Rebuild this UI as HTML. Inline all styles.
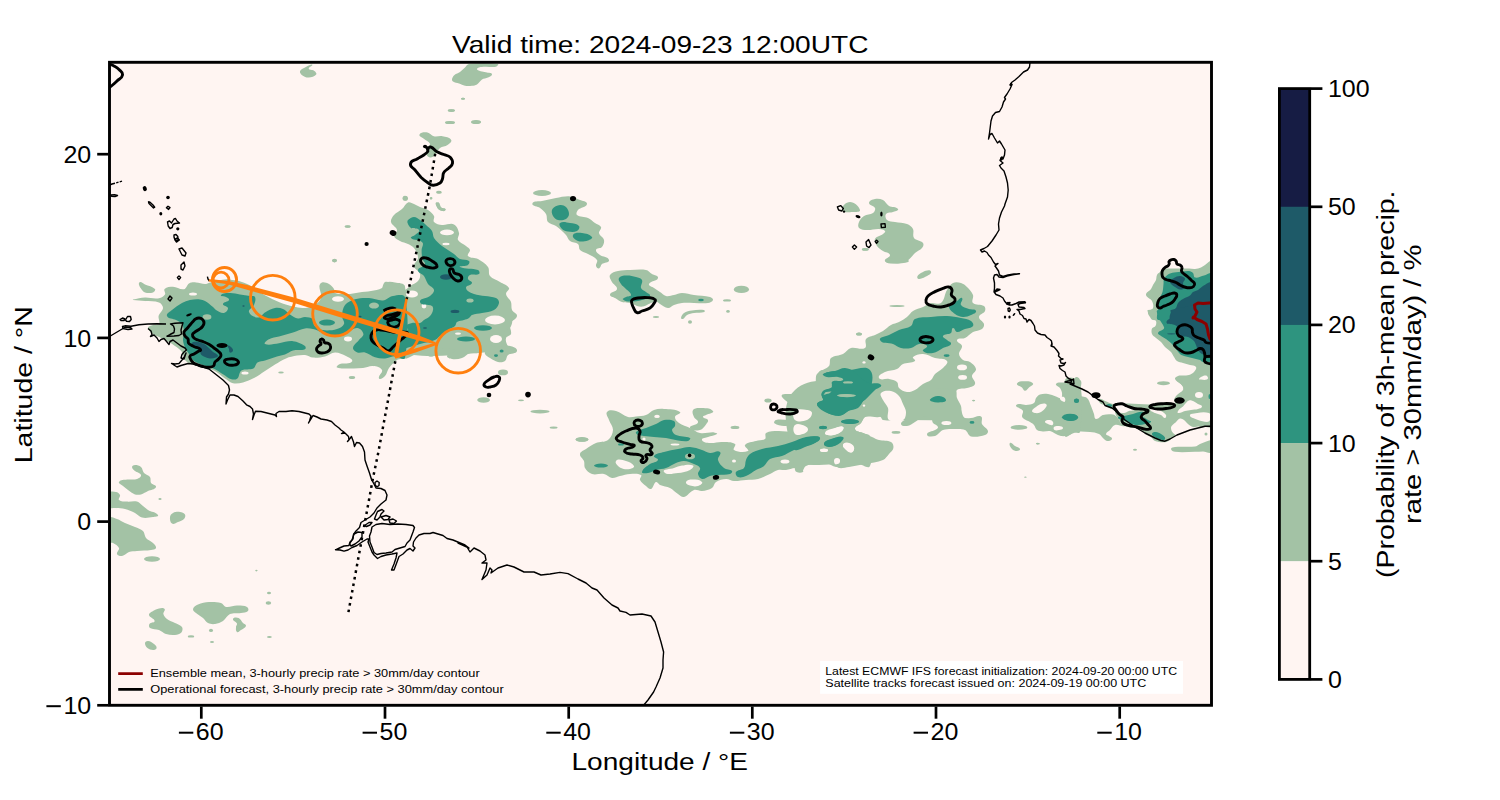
<!DOCTYPE html>
<html><head><meta charset="utf-8"><title>Precip probability map</title>
<style>html,body{margin:0;padding:0;background:#fff;}body{width:1500px;height:800px;overflow:hidden;font-family:"Liberation Sans",sans-serif;}svg{display:block;}text{font-family:"Liberation Sans",sans-serif;fill:#000;}</style></head><body>
<svg width="1500" height="800" viewBox="0 0 1500 800">
<rect x="0" y="0" width="1500" height="800" fill="#fff"/>
<defs><clipPath id="cp"><rect x="109.5" y="62.3" width="1102.0" height="643.0"/></clipPath></defs>
<rect x="109.5" y="62.3" width="1102.0" height="643.0" fill="#fff5f2"/>
<g clip-path="url(#cp)">
<g fill="#a3c2a5" stroke="none"><path d="M133.0 299.6 C137.0 298.8 140.9 297.8 145.0 297.6 C149.3 297.4 153.7 299.1 158.0 298.4 C160.7 298.0 163.5 296.6 165.0 294.4 C166.0 292.9 163.3 290.2 164.6 289.0 C166.7 287.0 170.1 286.8 173.0 286.8 C176.8 286.8 180.3 290.0 184.0 289.2 C186.5 288.7 186.8 284.7 189.0 283.4 C191.1 282.2 193.6 282.3 196.0 282.4 C199.0 282.5 202.0 284.0 205.0 284.0 C206.7 284.0 208.3 282.8 210.0 282.4 C215.5 281.2 221.0 279.8 226.6 279.2 C228.4 279.0 230.2 279.8 232.0 280.0 C233.8 280.2 235.6 280.2 237.4 280.6 C239.5 281.1 241.4 281.8 243.4 282.6 C246.3 283.8 249.3 284.9 252.0 286.4 C253.3 287.1 254.2 288.5 255.4 289.4 C258.6 291.6 261.9 293.7 265.4 295.6 C270.2 298.2 275.0 300.6 280.0 302.6 C284.3 304.3 288.9 305.5 293.4 306.6 C296.5 307.3 299.8 308.1 303.0 308.0 C306.4 307.9 310.0 307.7 313.0 306.0 C316.3 304.2 319.9 301.6 321.0 298.0 C322.2 294.2 319.1 290.0 319.4 286.0 C319.5 284.5 320.6 282.7 322.0 282.4 C324.3 281.9 326.9 282.8 329.0 284.0 C331.1 285.1 332.7 287.0 334.0 289.0 C334.8 290.1 333.7 292.5 335.0 293.0 C338.7 294.4 343.0 294.1 347.0 294.0 C351.0 293.9 355.0 292.9 359.0 292.4 C363.0 291.9 367.0 291.8 371.0 291.0 C374.7 290.3 378.7 289.9 382.0 288.0 C384.0 286.9 383.9 283.3 386.0 282.4 C388.8 281.2 392.1 281.8 395.0 282.4 C398.5 283.1 404.5 282.8 405.0 286.4 C408.1 309.7 407.5 333.6 405.0 357.0 C404.7 359.8 399.3 358.4 397.0 360.0 C393.9 362.1 391.3 365.0 389.0 368.0 C387.2 370.4 387.1 373.9 385.0 376.0 C383.5 377.6 380.0 380.3 379.0 378.4 C377.7 375.7 383.3 372.7 382.0 370.0 C380.6 367.0 376.3 366.3 373.0 366.0 C369.6 365.6 366.4 367.6 363.0 368.0 C359.0 368.4 355.0 368.5 351.0 368.4 C346.3 368.3 341.3 369.3 337.0 367.6 C335.5 367.0 338.5 364.6 340.0 364.0 C343.8 362.5 349.6 364.9 352.0 361.6 C353.6 359.4 348.4 357.3 346.0 356.0 C342.6 354.2 338.9 352.3 335.0 352.4 C331.4 352.5 328.5 355.6 325.0 356.4 C321.1 357.3 317.0 357.9 313.0 357.6 C310.2 357.4 307.8 355.3 305.0 355.0 C302.3 354.7 299.6 355.1 297.0 355.6 C293.3 356.3 289.5 357.0 286.0 358.4 C282.1 360.0 278.6 362.3 275.0 364.4 C271.6 366.5 268.4 368.8 265.0 371.0 C261.4 373.4 257.9 376.0 254.0 378.0 C250.5 379.8 246.8 381.5 243.0 382.4 C239.8 383.2 236.3 383.9 233.0 383.2 C230.0 382.5 227.6 380.1 225.0 378.4 C221.2 375.9 218.1 372.4 214.0 370.4 C209.9 368.4 205.4 367.6 201.0 366.4 C198.0 365.6 194.9 365.5 192.0 364.4 C189.4 363.4 186.7 362.1 185.0 360.0 C183.2 357.8 183.7 354.3 182.0 352.0 C180.2 349.5 177.5 347.8 175.0 346.0 C172.5 344.1 169.7 342.5 167.0 341.0 C164.4 339.5 161.7 338.3 159.0 337.0 C157.0 336.0 154.7 335.4 153.0 334.0 C151.0 332.4 148.0 330.6 148.0 328.0 C148.0 326.1 151.2 325.7 153.0 325.0 C154.9 324.3 157.9 325.7 159.0 324.0 C160.4 321.7 158.0 318.6 158.6 316.0 C159.3 313.0 162.9 311.0 163.0 308.0 C163.1 305.7 161.1 303.2 159.0 302.4 C154.6 300.7 149.7 301.4 145.0 301.0 C141.0 300.6 137.0 300.5 133.0 300.0 C132.9 300.0 132.9 299.6 133.0 299.6Z"/><path d="M139.4 282.4 C140.9 281.1 143.2 283.6 145.0 284.4 C148.4 285.8 152.4 286.4 155.0 289.0 C155.9 289.9 154.2 292.0 153.0 292.4 C150.5 293.3 147.5 293.3 145.0 292.4 C143.0 291.7 141.6 289.8 140.6 288.0 C139.7 286.3 137.9 283.6 139.4 282.4Z"/><path d="M384.0 283.0 C385.6 280.1 390.8 282.9 394.0 284.0 C397.7 285.3 400.1 289.5 404.0 290.0 C406.4 290.3 408.0 287.3 410.0 286.0 C412.6 284.3 416.0 283.4 418.0 281.0 C419.6 279.1 420.6 276.3 420.0 274.0 C419.1 270.8 414.4 269.3 414.0 266.0 C413.6 263.0 418.0 261.0 418.0 258.0 C418.0 254.4 416.1 250.9 414.0 248.0 C412.6 246.0 410.1 245.1 408.0 244.0 C405.5 242.7 402.5 242.4 400.0 241.0 C397.7 239.7 394.7 238.5 394.0 236.0 C393.4 233.8 397.5 232.2 397.0 230.0 C396.3 226.7 391.7 225.3 391.0 222.0 C390.5 219.5 392.4 216.9 394.0 215.0 C396.2 212.5 399.5 211.2 402.0 209.0 C404.2 207.0 405.3 203.5 408.0 202.4 C409.9 201.6 412.1 203.3 414.0 204.0 C416.1 204.8 417.9 206.1 420.0 207.0 C422.6 208.1 425.6 208.5 428.0 210.0 C430.4 211.5 432.7 213.5 434.0 216.0 C434.9 217.8 432.7 220.5 434.0 222.0 C435.9 224.1 439.2 224.7 442.0 225.0 C446.0 225.5 450.4 222.7 454.0 224.4 C457.0 225.8 458.2 229.8 459.0 233.0 C459.6 235.3 456.9 237.9 458.0 240.0 C459.6 242.9 463.4 243.9 466.0 246.0 C467.4 247.2 469.6 248.2 470.0 250.0 C470.4 252.1 466.6 254.4 468.0 256.0 C470.3 258.6 475.0 257.3 478.0 259.0 C481.7 261.1 485.5 263.5 488.0 267.0 C489.8 269.5 488.1 273.6 490.0 276.0 C492.4 279.0 496.7 279.9 500.0 282.0 C503.0 283.9 507.4 284.8 509.0 288.0 C510.0 290.0 505.7 291.8 506.0 294.0 C506.4 297.1 509.9 299.1 511.0 302.0 C511.9 304.5 510.9 307.5 512.0 310.0 C513.0 312.4 517.4 313.4 517.0 316.0 C516.5 319.5 511.1 320.6 510.0 324.0 C508.9 327.2 511.9 330.8 511.0 334.0 C510.4 336.1 506.5 335.9 506.0 338.0 C505.3 340.7 506.5 343.7 508.0 346.0 C509.3 348.0 516.4 349.9 514.0 350.0 C472.7 351.4 429.3 362.7 390.0 350.0 C377.3 345.9 391.7 323.2 390.0 310.0 C389.6 306.7 384.7 305.3 384.0 302.0 C382.6 295.8 380.9 288.5 384.0 283.0Z"/><path d="M436.0 202.4 C437.0 201.8 438.2 203.5 439.0 204.4 C439.9 205.3 440.0 206.9 441.0 207.6 C442.3 208.5 444.4 207.9 445.6 209.0 C446.1 209.5 445.1 210.7 444.4 210.8 C442.6 211.0 440.6 210.5 439.0 209.6 C437.7 208.8 437.0 207.4 436.4 206.0 C435.9 204.9 435.0 203.0 436.0 202.4Z"/><path d="M532.4 203.6 C533.3 200.4 538.8 201.8 542.0 201.0 C546.6 199.9 551.3 198.8 556.0 198.0 C560.6 197.2 565.3 196.0 570.0 196.4 C573.5 196.7 576.8 198.6 580.0 200.0 C582.5 201.1 587.5 201.4 587.0 204.0 C586.3 207.5 580.4 207.3 578.0 210.0 C576.9 211.3 575.7 213.9 577.0 215.0 C580.0 217.4 584.5 216.5 588.0 218.0 C590.6 219.2 592.6 221.4 595.0 223.0 C597.0 224.4 600.1 224.8 601.0 227.0 C601.8 229.0 598.5 230.9 599.0 233.0 C599.6 235.8 603.4 237.2 604.0 240.0 C604.5 242.4 603.5 245.1 602.0 247.0 C600.6 248.7 596.5 247.8 596.0 250.0 C595.5 252.1 598.3 253.7 600.0 255.0 C602.7 257.1 608.3 256.6 609.0 260.0 C609.6 262.6 604.1 262.3 602.0 264.0 C600.6 265.1 600.7 267.8 599.0 268.4 C597.8 268.8 596.3 267.2 596.0 266.0 C595.5 264.0 598.1 261.7 597.0 260.0 C595.0 257.0 591.1 255.8 588.0 254.0 C585.4 252.5 582.1 252.1 580.0 250.0 C578.5 248.5 579.6 245.4 578.0 244.0 C575.9 242.1 572.3 242.7 570.0 241.0 C568.1 239.6 567.6 236.8 566.0 235.0 C562.9 231.7 559.6 228.6 556.0 226.0 C553.6 224.3 549.9 224.3 548.0 222.0 C546.2 219.9 547.4 216.4 546.0 214.0 C544.6 211.5 542.2 209.7 540.0 208.0 C537.7 206.2 531.6 206.4 532.4 203.6Z"/><path d="M405.0 320.0 C438.3 308.1 475.8 317.3 511.0 320.0 C513.7 320.2 511.4 325.7 510.0 328.0 C508.8 330.1 504.9 329.8 504.0 332.0 C503.2 334.0 506.9 336.1 506.0 338.0 C505.1 340.0 502.2 340.7 500.0 341.0 C496.7 341.4 493.2 338.9 490.0 340.0 C488.3 340.6 489.3 343.7 488.0 345.0 C486.4 346.6 483.7 346.6 482.0 348.0 C480.3 349.3 480.0 352.2 478.0 353.0 C475.5 354.0 472.5 352.2 470.0 353.0 C467.0 353.9 465.0 357.0 462.0 358.0 C458.8 359.1 455.3 359.4 452.0 359.0 C450.1 358.7 446.5 357.9 447.0 356.0 C447.7 353.4 451.8 353.5 454.0 352.0 C454.8 351.5 456.9 350.3 456.0 350.0 C451.5 348.5 446.7 348.8 442.0 348.0 C439.3 347.6 436.7 346.0 434.0 346.4 C431.7 346.7 430.2 349.1 428.0 350.0 C424.8 351.3 421.2 351.7 418.0 353.0 C415.2 354.1 412.8 355.9 410.0 357.0 C408.4 357.6 405.2 359.7 405.0 358.0 C403.3 345.4 393.1 324.3 405.0 320.0Z"/><path d="M488.0 345.0 C490.7 344.5 493.3 346.9 496.0 347.0 C500.7 347.2 505.4 345.1 510.0 346.0 C512.8 346.5 517.6 348.2 517.0 351.0 C516.3 354.2 510.5 352.9 508.0 355.0 C506.3 356.4 506.8 359.7 505.0 361.0 C503.1 362.4 500.3 362.5 498.0 362.0 C495.1 361.4 492.5 359.6 490.0 358.0 C488.2 356.9 485.9 356.0 485.0 354.0 C484.3 352.4 485.5 350.6 486.0 349.0 C486.5 347.6 486.5 345.3 488.0 345.0Z"/><path d="M580.0 454.0 C580.4 451.4 583.9 450.5 586.0 449.0 C589.2 446.8 592.4 444.5 596.0 443.0 C599.8 441.4 604.7 442.5 608.0 440.0 C611.0 437.7 612.8 433.7 613.0 430.0 C613.2 426.4 610.1 423.4 609.0 420.0 C608.1 417.4 605.3 414.2 607.0 412.0 C608.9 409.6 613.1 410.3 616.0 411.0 C620.4 412.0 623.7 415.8 628.0 417.0 C630.6 417.7 633.3 416.7 636.0 416.4 C639.3 416.0 642.8 416.1 646.0 415.0 C649.0 413.9 651.0 411.0 654.0 410.0 C657.2 408.9 660.7 408.7 664.0 409.0 C669.4 409.4 675.6 408.8 680.0 412.0 C681.9 413.4 675.2 414.7 675.0 417.0 C674.8 419.4 677.1 421.6 679.0 423.0 C682.2 425.4 686.4 426.3 690.0 428.0 C693.4 429.6 696.3 432.3 700.0 433.0 C704.6 433.8 709.3 432.1 714.0 432.4 C715.1 432.5 717.9 433.3 717.0 434.0 C714.5 435.9 710.9 435.8 708.0 437.0 C705.9 437.8 701.3 437.9 702.0 440.0 C702.9 442.7 707.2 442.7 710.0 443.0 C714.0 443.4 718.0 441.8 722.0 442.0 C726.4 442.2 731.4 441.6 735.0 444.0 C736.7 445.1 732.2 449.0 734.0 450.0 C738.1 452.2 743.7 452.9 748.0 451.0 C750.0 450.1 743.6 446.7 745.0 445.0 C747.4 442.0 752.3 442.1 756.0 441.0 C758.9 440.1 762.6 440.9 765.0 439.0 C766.6 437.7 764.3 434.1 766.0 433.0 C769.5 430.9 773.9 431.1 778.0 431.0 C783.4 430.9 788.7 431.9 794.0 432.4 C798.3 432.8 802.8 434.8 807.0 433.6 C808.7 433.1 809.3 429.6 808.0 428.4 C805.4 426.0 801.5 425.5 798.0 425.2 C793.3 424.7 788.7 426.4 784.0 426.0 C780.7 425.7 777.1 425.2 774.4 423.2 C773.4 422.5 774.8 420.2 776.0 420.0 C780.6 419.1 785.3 420.1 790.0 420.0 C795.3 419.9 800.8 420.6 806.0 419.2 C808.2 418.6 811.0 416.7 811.0 414.4 C811.0 412.2 808.1 410.7 806.0 410.0 C802.8 408.9 799.1 410.4 796.0 409.2 C793.5 408.3 792.0 405.7 790.0 404.0 C787.3 401.7 784.2 399.8 782.0 397.0 C781.5 396.3 781.5 394.6 782.4 394.4 C786.8 393.4 791.5 394.2 796.0 394.0 C799.3 393.9 802.7 393.3 806.0 393.6 C808.9 393.8 811.8 396.8 814.4 395.6 C816.1 394.8 813.4 391.8 814.0 390.0 C815.0 387.0 818.2 385.1 819.0 382.0 C819.7 379.4 817.3 376.6 818.0 374.0 C818.5 372.2 820.1 370.1 822.0 370.0 C838.0 368.8 858.3 359.1 870.0 370.0 C880.9 380.3 871.6 400.1 870.0 415.0 C869.8 416.8 866.3 415.8 865.0 417.0 C863.2 418.6 862.5 421.2 861.0 423.0 C859.2 425.2 854.4 426.2 855.0 429.0 C855.6 431.9 860.3 431.7 863.0 433.0 C865.3 434.1 869.5 433.9 870.0 436.4 C872.0 446.1 873.9 457.0 870.0 466.0 C868.4 469.7 862.1 464.0 858.0 464.0 C853.9 464.0 850.0 465.5 846.0 466.0 C842.7 466.5 839.3 467.5 836.0 467.0 C832.4 466.5 829.6 463.5 826.0 463.0 C822.7 462.5 819.3 463.5 816.0 464.0 C812.6 464.5 809.0 464.4 806.0 466.0 C803.7 467.2 803.6 471.5 801.0 472.0 C798.9 472.4 798.1 468.3 796.0 468.0 C792.6 467.6 789.4 469.6 786.0 470.0 C783.3 470.3 780.6 469.4 778.0 470.0 C775.1 470.7 772.7 472.8 770.0 474.0 C766.0 475.8 762.2 477.9 758.0 479.0 C754.1 480.0 750.0 479.7 746.0 480.0 C742.0 480.3 738.0 481.2 734.0 481.0 C731.3 480.9 728.7 478.8 726.0 479.0 C722.5 479.2 718.9 480.1 716.0 482.0 C714.0 483.3 714.0 486.7 712.0 488.0 C709.1 489.9 705.5 490.6 702.0 491.0 C699.3 491.3 696.5 489.2 694.0 490.0 C690.1 491.3 687.9 496.0 684.0 497.0 C681.8 497.5 679.9 495.2 678.0 494.0 C675.2 492.2 673.0 489.5 670.0 488.0 C666.9 486.4 663.2 486.4 660.0 485.0 C658.5 484.3 657.5 481.3 656.0 482.0 C653.4 483.2 653.7 487.9 651.0 489.0 C649.2 489.7 647.5 487.2 646.0 486.0 C643.8 484.2 641.2 482.6 640.0 480.0 C639.3 478.5 642.5 475.9 641.0 475.0 C637.8 473.1 633.7 473.8 630.0 474.0 C626.6 474.2 623.3 475.3 620.0 476.0 C617.3 476.6 614.7 478.3 612.0 478.0 C609.0 477.6 606.9 474.6 604.0 474.0 C600.1 473.2 595.8 475.2 592.0 474.0 C589.1 473.1 586.6 470.6 585.0 468.0 C583.8 466.0 584.8 463.2 584.0 461.0 C583.1 458.5 579.6 456.7 580.0 454.0Z"/><path d="M693.0 410.0 C694.3 408.0 697.6 407.9 700.0 408.0 C704.4 408.2 710.1 407.6 713.0 411.0 C714.7 413.0 708.3 413.6 706.0 415.0 C705.0 415.6 702.6 415.9 703.0 417.0 C703.7 418.8 707.3 418.2 708.0 420.0 C708.6 421.5 707.0 423.1 706.0 424.4 C704.3 426.5 702.7 429.4 700.0 430.0 C696.7 430.7 690.9 431.3 690.0 428.0 C689.2 424.9 696.9 425.5 698.0 422.4 C698.8 420.3 694.8 419.1 694.0 417.0 C693.1 414.8 691.7 412.0 693.0 410.0Z"/><path d="M795.0 394.0 C797.4 390.6 803.3 392.8 807.0 391.0 C810.2 389.4 813.2 387.1 815.0 384.0 C816.7 381.1 814.9 376.7 817.0 374.0 C820.0 370.2 825.8 369.6 829.0 366.0 C830.8 363.9 828.9 359.8 831.0 358.0 C834.2 355.3 839.2 355.9 843.0 354.0 C846.0 352.5 847.8 348.9 851.0 348.0 C855.5 346.8 861.0 350.4 865.0 348.0 C867.6 346.4 864.2 341.4 866.0 339.0 C868.0 336.4 872.0 336.4 875.0 335.0 C877.7 333.7 880.5 332.6 883.0 331.0 C885.8 329.2 888.1 326.6 891.0 325.0 C893.5 323.6 896.5 323.3 899.0 322.0 C901.8 320.6 904.5 318.9 907.0 317.0 C909.2 315.3 910.6 312.5 913.0 311.0 C916.0 309.1 919.7 308.5 923.0 307.0 C925.7 305.8 928.1 303.6 931.0 303.0 C934.3 302.3 938.4 305.1 941.0 303.0 C944.7 300.0 944.5 294.1 947.0 290.0 C948.6 287.4 950.3 284.4 953.0 283.0 C955.4 281.8 958.4 282.3 961.0 283.0 C963.3 283.7 965.3 285.3 967.0 287.0 C969.4 289.4 971.8 291.9 973.0 295.0 C973.9 297.5 971.1 301.1 973.0 303.0 C975.7 305.7 980.8 303.9 984.0 306.0 C985.4 306.9 985.7 309.5 985.0 311.0 C983.8 313.6 979.2 314.2 979.0 317.0 C978.8 319.9 983.3 321.2 984.0 324.0 C984.4 325.7 983.5 327.9 982.0 329.0 C979.4 330.9 975.8 330.5 973.0 332.0 C970.1 333.6 968.0 336.5 965.0 338.0 C962.5 339.2 958.0 337.4 957.0 340.0 C956.1 342.4 961.6 343.4 962.0 346.0 C962.4 348.8 958.8 351.2 959.0 354.0 C959.2 356.4 961.1 358.6 963.0 360.0 C965.0 361.4 968.0 360.6 970.0 362.0 C972.5 363.7 975.6 366.0 976.0 369.0 C976.4 371.7 972.2 373.3 972.0 376.0 C971.8 378.8 976.1 381.4 975.0 384.0 C973.9 386.8 969.8 387.1 967.0 388.0 C963.8 389.1 959.6 387.8 957.0 390.0 C954.9 391.8 954.5 395.3 955.0 398.0 C955.9 402.4 959.0 406.0 961.0 410.0 C962.3 412.7 962.3 416.7 965.0 418.0 C969.8 420.4 986.4 419.8 981.0 420.0 C956.3 420.9 931.7 420.0 907.0 420.0 C899.0 420.0 890.9 421.1 883.0 420.0 C881.5 419.8 881.5 416.8 880.0 416.4 C874.8 415.2 869.2 414.6 864.0 415.6 C862.4 415.9 863.6 419.9 862.0 420.0 C844.4 421.4 826.5 422.1 809.0 420.0 C806.8 419.7 812.8 416.1 812.0 414.0 C811.0 411.3 807.7 410.0 805.0 409.0 C801.8 407.9 796.9 410.8 795.0 408.0 C792.4 404.1 792.3 397.8 795.0 394.0Z"/><path d="M917.4 278.0 C916.4 275.5 920.5 273.2 923.0 272.0 C925.4 270.9 930.0 269.1 931.0 271.6 C932.0 274.1 927.4 275.9 925.0 277.0 C922.7 278.1 918.3 280.4 917.4 278.0Z"/><path d="M795.0 390.0 C816.7 370.3 853.7 388.1 883.0 390.0 C885.8 390.2 887.4 393.6 889.0 396.0 C890.2 397.8 891.3 399.9 891.0 402.0 C890.6 404.4 887.4 405.6 887.0 408.0 C886.7 409.8 890.2 411.7 889.0 413.0 C886.6 415.7 882.5 416.4 879.0 417.0 C874.4 417.8 869.4 415.5 865.0 417.0 C862.7 417.8 862.5 421.2 861.0 423.0 C859.2 425.2 854.4 426.2 855.0 429.0 C855.6 431.9 860.3 431.7 863.0 433.0 C866.0 434.4 869.0 435.7 872.0 437.0 C874.3 438.0 876.5 439.4 879.0 440.0 C882.9 441.0 887.5 440.0 891.0 442.0 C892.9 443.0 893.8 445.9 893.4 448.0 C893.0 450.4 890.6 452.1 889.0 454.0 C887.1 456.1 885.6 458.9 883.0 460.0 C877.3 462.4 871.0 462.8 865.0 464.0 C859.7 465.1 854.4 466.2 849.0 467.0 C845.7 467.5 842.3 468.5 839.0 468.0 C837.4 467.8 836.6 465.2 835.0 465.0 C829.7 464.2 824.3 464.8 819.0 465.0 C813.0 465.2 806.5 463.6 801.0 466.0 C799.1 466.8 804.8 470.8 803.0 472.0 C800.7 473.5 795.3 472.7 795.0 470.0 C792.4 443.5 775.3 407.9 795.0 390.0Z"/><path d="M899.0 390.0 C917.5 387.6 936.5 387.4 955.0 390.0 C957.7 390.4 956.0 395.4 957.0 398.0 C958.0 400.8 960.1 403.2 961.0 406.0 C962.1 409.6 960.6 414.1 963.0 417.0 C964.7 419.1 968.3 418.1 971.0 418.0 C974.4 417.9 978.0 414.8 981.0 416.4 C983.2 417.6 980.9 421.7 982.0 424.0 C983.3 426.8 987.2 428.0 988.0 431.0 C988.4 432.6 986.6 434.5 985.0 435.0 C980.5 436.4 975.5 437.5 971.0 436.4 C968.2 435.7 967.7 431.2 965.0 430.0 C962.0 428.6 958.3 429.0 955.0 429.0 C951.0 429.0 946.8 428.7 943.0 430.0 C939.9 431.1 938.2 435.1 935.0 436.0 C932.4 436.7 927.0 437.1 927.0 434.4 C927.0 431.4 932.5 431.7 935.0 430.0 C936.2 429.2 938.4 428.4 938.0 427.0 C937.4 424.9 934.3 424.7 933.0 423.0 C931.9 421.6 932.5 418.9 931.0 418.0 C928.7 416.6 925.6 416.3 923.0 417.0 C919.9 417.8 917.7 420.5 915.0 422.0 C912.4 423.5 910.0 425.6 907.0 426.0 C904.9 426.3 901.0 426.1 901.0 424.0 C901.0 421.2 905.2 420.2 907.0 418.0 C907.9 416.8 909.5 415.4 909.0 414.0 C908.3 412.0 904.6 412.0 904.0 410.0 C903.4 408.0 906.5 406.1 906.0 404.0 C905.4 401.2 902.3 399.6 901.0 397.0 C899.9 394.8 896.6 390.3 899.0 390.0Z"/><path d="M1010.0 443.0 C1011.4 441.6 1013.3 445.0 1015.0 446.0 C1016.7 447.0 1019.3 447.2 1020.0 449.0 C1020.4 450.1 1018.2 451.0 1017.0 451.0 C1015.2 451.0 1013.2 450.4 1012.0 449.0 C1010.6 447.4 1008.5 444.5 1010.0 443.0Z"/><path d="M610.0 275.0 C611.4 272.4 615.1 271.7 618.0 271.0 C621.9 270.0 626.0 270.1 630.0 270.0 C635.3 269.8 640.8 269.0 646.0 270.0 C648.4 270.4 650.0 272.7 652.0 274.0 C654.0 275.3 658.7 275.7 658.0 278.0 C657.0 281.5 650.3 280.7 649.0 284.0 C648.2 286.0 652.3 286.7 654.0 288.0 C655.9 289.4 658.0 290.7 660.0 292.0 C662.0 293.3 663.6 295.5 666.0 296.0 C668.6 296.6 671.4 295.5 674.0 295.0 C676.7 294.5 679.3 293.0 682.0 293.0 C686.1 293.0 690.0 294.4 694.0 295.0 C699.3 295.8 704.8 295.6 710.0 297.0 C711.4 297.4 713.4 298.7 713.0 300.0 C712.4 301.8 709.9 302.7 708.0 303.0 C703.4 303.7 698.7 303.0 694.0 303.0 C690.0 303.0 686.0 302.6 682.0 303.0 C679.3 303.3 676.6 304.1 674.0 305.0 C671.9 305.8 670.2 308.2 668.0 308.0 C665.0 307.8 662.6 305.4 660.0 304.0 C658.6 303.3 657.6 301.7 656.0 301.6 C653.9 301.5 652.0 302.8 650.0 303.6 C647.6 304.5 645.5 306.1 643.0 306.6 C641.0 307.0 638.9 306.6 637.0 306.0 C634.9 305.4 633.2 303.6 631.0 303.0 C628.1 302.2 624.9 302.9 622.0 302.0 C619.4 301.2 617.3 299.4 615.0 298.0 C613.3 296.9 609.6 296.4 610.0 294.4 C610.6 291.5 616.5 291.9 617.0 289.0 C617.5 286.2 613.3 284.6 612.0 282.0 C610.9 279.8 608.8 277.1 610.0 275.0Z"/><path d="M681.0 318.0 C681.3 316.1 682.4 314.1 684.0 313.0 C686.3 311.4 689.2 310.8 692.0 310.4 C696.0 309.8 700.0 309.5 704.0 310.0 C704.7 310.1 705.1 311.8 704.4 312.0 C701.1 313.0 697.4 312.4 694.0 313.0 C691.6 313.4 689.1 313.8 687.0 315.0 C685.3 315.9 684.7 318.2 683.0 319.0 C682.3 319.3 680.9 318.7 681.0 318.0Z"/><path d="M869.0 203.0 C869.0 200.6 872.6 199.5 875.0 199.0 C877.6 198.4 880.6 198.8 883.0 200.0 C885.5 201.3 886.6 204.5 889.0 206.0 C891.7 207.6 896.2 206.4 898.0 209.0 C899.1 210.6 894.8 211.3 893.0 212.0 C890.8 212.9 887.5 212.1 886.0 214.0 C884.8 215.6 885.5 218.7 887.0 220.0 C889.1 221.8 892.3 221.5 895.0 222.0 C899.0 222.8 903.2 222.5 907.0 224.0 C909.4 224.9 911.8 226.7 913.0 229.0 C914.3 231.7 912.2 235.5 914.0 238.0 C916.0 240.8 920.9 240.3 923.0 243.0 C924.1 244.3 923.1 246.7 922.0 248.0 C920.2 250.2 917.2 251.1 915.0 253.0 C912.2 255.5 910.3 259.2 907.0 261.0 C903.4 262.9 899.1 263.6 895.0 263.6 C891.6 263.6 886.7 264.0 885.0 261.0 C883.7 258.7 890.5 257.6 890.0 255.0 C889.5 252.4 885.2 252.5 883.0 251.0 C880.9 249.5 878.4 248.2 877.0 246.0 C875.7 244.0 873.9 241.2 875.0 239.0 C876.4 236.2 880.5 236.0 883.0 234.0 C883.9 233.2 885.8 231.9 885.0 231.0 C883.7 229.4 881.1 229.1 879.0 229.0 C875.0 228.8 871.0 230.2 867.0 230.0 C864.3 229.9 860.9 229.9 859.0 228.0 C857.6 226.6 858.2 223.8 859.0 222.0 C860.0 219.6 861.8 217.4 864.0 216.0 C866.7 214.3 870.4 214.9 873.0 213.0 C874.5 211.9 875.7 209.7 875.0 208.0 C874.0 205.6 869.0 205.6 869.0 203.0Z"/><path d="M842.0 210.0 C840.9 206.4 846.2 202.0 850.0 202.0 C854.3 202.0 858.8 205.9 860.0 210.0 C860.7 212.3 855.4 212.0 853.0 212.0 C849.3 212.0 843.1 213.6 842.0 210.0Z"/><path d="M1210.0 261.0 C1208.1 262.1 1206.7 263.8 1205.0 265.0 C1203.7 265.9 1202.5 266.9 1201.0 267.5 C1199.1 268.3 1197.1 268.8 1195.0 269.0 C1193.0 269.2 1191.0 268.6 1189.0 268.5 C1187.0 268.4 1185.0 268.5 1183.0 268.5 C1180.3 268.5 1177.7 268.5 1175.0 268.5 C1173.0 268.5 1171.0 268.4 1169.0 268.5 C1167.3 268.6 1165.6 268.4 1164.0 269.0 C1162.4 269.6 1161.3 270.9 1160.0 272.0 C1158.9 272.9 1157.6 273.7 1157.0 275.0 C1156.2 276.5 1156.6 278.4 1156.0 280.0 C1155.3 281.8 1153.9 283.3 1153.0 285.0 C1152.3 286.3 1151.9 287.8 1151.0 289.0 C1149.5 291.1 1145.8 292.3 1146.0 294.8 C1146.2 297.7 1150.7 298.5 1152.0 301.0 C1153.1 303.1 1153.8 305.8 1153.0 308.0 C1152.3 310.0 1148.7 310.0 1148.0 312.0 C1147.4 313.7 1149.0 315.5 1150.0 317.0 C1150.7 318.2 1151.6 319.9 1153.0 320.0 C1172.6 321.0 1198.1 333.9 1212.0 320.0 C1225.9 306.1 1212.7 280.7 1212.0 261.0 C1212.0 260.3 1210.6 260.7 1210.0 261.0Z"/><path d="M1148.0 310.0 C1146.3 310.1 1148.7 313.5 1149.5 315.0 C1150.4 316.5 1151.7 317.8 1153.0 319.0 C1153.9 319.8 1155.6 319.9 1156.0 321.0 C1156.6 322.6 1156.3 324.5 1155.5 326.0 C1154.8 327.3 1152.6 327.2 1152.0 328.5 C1151.3 330.2 1151.3 332.3 1152.0 334.0 C1152.7 335.7 1154.6 336.7 1156.0 338.0 C1157.6 339.4 1159.5 340.5 1161.0 342.0 C1162.5 343.5 1163.5 345.5 1165.0 347.0 C1166.8 348.8 1169.3 350.1 1171.0 352.0 C1172.3 353.4 1172.9 355.4 1174.0 357.0 C1174.9 358.4 1175.6 360.1 1177.0 361.0 C1178.8 362.2 1181.0 362.4 1183.0 363.0 C1185.3 363.7 1187.7 364.3 1190.0 365.0 C1192.0 365.6 1195.0 365.2 1196.0 367.0 C1196.9 368.6 1195.2 370.6 1194.0 372.0 C1192.7 373.5 1190.9 374.4 1189.0 375.0 C1187.1 375.6 1185.0 375.3 1183.0 375.5 C1181.3 375.7 1179.5 375.3 1178.0 376.0 C1176.7 376.6 1174.6 377.6 1175.0 379.0 C1175.6 381.1 1178.5 381.5 1180.0 383.0 C1181.2 384.2 1182.2 385.6 1183.0 387.0 C1183.5 387.9 1183.0 389.9 1184.0 390.0 C1193.3 391.0 1208.9 398.8 1212.0 390.0 C1220.8 364.8 1228.7 330.8 1212.0 310.0 C1198.7 293.3 1169.3 308.3 1148.0 310.0Z"/><path d="M1065.0 380.0 C1066.3 375.2 1075.3 378.2 1080.0 380.0 C1081.9 380.7 1081.5 384.0 1081.0 386.0 C1080.4 388.1 1077.7 389.0 1077.0 391.0 C1076.6 392.3 1076.9 394.2 1078.0 395.0 C1080.6 396.8 1084.6 396.0 1087.0 398.0 C1089.3 399.9 1089.8 403.3 1091.0 406.0 C1092.1 408.6 1093.0 411.3 1094.0 414.0 C1094.6 415.7 1094.2 418.8 1096.0 419.0 C1098.7 419.3 1100.4 415.7 1103.0 415.0 C1106.2 414.1 1109.7 414.0 1113.0 414.5 C1114.6 414.7 1115.9 415.9 1117.0 417.0 C1118.6 418.8 1119.4 421.2 1121.0 423.0 C1122.1 424.2 1126.6 425.5 1125.0 426.0 C1121.8 427.1 1118.2 424.1 1115.0 425.0 C1112.7 425.6 1111.7 428.3 1110.0 430.0 C1108.7 431.3 1106.3 432.1 1106.0 434.0 C1105.8 435.2 1108.1 435.2 1109.0 436.0 C1110.1 436.9 1112.5 437.7 1112.0 439.0 C1111.3 440.7 1108.8 441.2 1107.0 441.0 C1105.3 440.8 1104.3 439.1 1103.0 438.0 C1101.6 436.8 1100.7 434.8 1099.0 434.0 C1096.2 432.7 1093.1 432.3 1090.0 432.0 C1085.0 431.6 1079.9 431.2 1075.0 432.0 C1071.5 432.6 1065.7 439.5 1065.0 436.0 C1061.5 417.7 1060.2 398.0 1065.0 380.0Z"/><path d="M1099.0 399.0 C1101.0 398.2 1103.0 400.3 1105.0 401.0 C1107.7 402.0 1110.2 403.5 1113.0 404.0 C1115.6 404.5 1120.0 401.5 1121.0 404.0 C1122.0 406.4 1117.5 408.2 1115.0 409.0 C1113.1 409.6 1110.9 408.7 1109.0 408.0 C1107.2 407.3 1105.7 405.9 1104.0 405.0 C1102.7 404.3 1101.0 404.1 1100.0 403.0 C1099.1 401.9 1097.7 399.5 1099.0 399.0Z"/><path d="M1115.0 409.0 C1115.8 406.5 1118.4 404.3 1121.0 404.0 C1130.6 402.8 1140.3 404.6 1150.0 404.5 C1158.3 404.4 1166.8 405.0 1175.0 403.5 C1176.2 403.3 1173.7 401.2 1174.0 400.0 C1174.4 398.1 1175.7 396.4 1177.0 395.0 C1178.7 393.1 1181.6 392.2 1183.0 390.0 C1183.7 388.9 1183.7 387.1 1183.0 386.0 C1181.5 383.6 1174.2 380.6 1177.0 380.0 C1188.4 377.6 1205.0 370.7 1212.0 380.0 C1221.3 392.4 1214.6 411.2 1212.0 426.5 C1211.6 429.1 1206.6 426.5 1204.0 427.0 C1200.3 427.7 1196.6 428.9 1193.0 430.0 C1190.0 430.9 1187.0 432.1 1184.0 433.0 C1181.4 433.8 1178.5 433.8 1176.0 435.0 C1173.7 436.2 1172.2 438.6 1170.0 440.0 C1168.5 441.0 1166.8 442.1 1165.0 442.2 C1161.7 442.4 1158.1 442.2 1155.0 441.0 C1153.2 440.3 1152.5 438.1 1151.0 437.0 C1149.2 435.7 1146.8 435.3 1145.0 434.0 C1143.5 432.9 1142.6 431.0 1141.0 430.0 C1139.2 428.9 1137.0 428.5 1135.0 428.0 C1131.7 427.2 1127.9 427.8 1125.0 426.0 C1121.6 423.9 1119.0 420.5 1117.0 417.0 C1115.6 414.6 1114.2 411.6 1115.0 409.0Z"/><path d="M1171.0 449.0 C1171.0 447.5 1173.5 447.2 1175.0 447.0 C1181.6 446.3 1188.4 447.3 1195.0 446.5 C1196.9 446.3 1198.3 444.8 1200.0 444.0 C1201.6 443.3 1203.3 442.4 1205.0 442.0 C1207.3 441.4 1210.6 439.1 1212.0 441.0 C1214.1 444.0 1214.4 449.2 1212.0 452.0 C1210.0 454.3 1206.0 451.5 1203.0 451.5 C1200.3 451.5 1197.7 451.8 1195.0 451.8 C1188.3 451.9 1181.6 452.6 1175.0 451.8 C1173.4 451.6 1171.0 450.6 1171.0 449.0Z"/><path d="M1016.0 405.5 C1016.0 404.1 1018.6 404.1 1020.0 404.0 C1022.0 403.9 1024.0 405.1 1026.0 405.0 C1028.7 404.8 1031.7 404.6 1034.0 403.0 C1035.5 402.0 1035.0 399.5 1036.0 398.0 C1037.0 396.6 1038.3 395.1 1040.0 394.5 C1042.5 393.7 1045.3 393.7 1048.0 394.0 C1050.8 394.3 1053.3 395.7 1056.0 396.5 C1057.7 397.0 1059.5 398.9 1061.0 398.0 C1062.5 397.1 1062.2 394.7 1062.0 393.0 C1061.8 391.2 1061.0 389.5 1060.0 388.0 C1059.0 386.4 1055.1 385.7 1056.0 384.0 C1057.1 381.9 1060.6 382.7 1063.0 382.5 C1065.3 382.3 1067.7 382.9 1070.0 383.0 C1073.3 383.1 1079.3 379.7 1080.0 383.0 C1083.3 399.0 1081.9 415.8 1080.0 432.0 C1079.8 434.0 1075.9 432.4 1074.0 433.0 C1071.9 433.6 1070.1 435.0 1068.0 435.5 C1065.7 436.0 1063.3 436.4 1061.0 436.0 C1058.9 435.7 1057.0 434.4 1055.0 433.5 C1053.3 432.7 1051.8 431.3 1050.0 431.0 C1047.7 430.6 1045.3 431.7 1043.0 431.5 C1040.9 431.3 1038.7 431.2 1037.0 430.0 C1035.4 428.9 1035.3 426.5 1034.0 425.0 C1032.9 423.7 1031.4 422.9 1030.0 422.0 C1028.4 421.0 1026.5 420.6 1025.0 419.5 C1023.8 418.7 1022.3 417.9 1022.0 416.5 C1021.6 414.7 1023.5 412.8 1023.0 411.0 C1022.7 409.7 1021.0 409.3 1020.0 408.5 C1018.7 407.5 1016.0 407.2 1016.0 405.5Z"/><path d="M1017.0 383.5 C1018.2 381.0 1022.2 381.2 1025.0 381.2 C1027.8 381.2 1031.5 381.2 1033.0 383.5 C1034.0 385.1 1030.4 386.2 1029.0 387.5 C1027.7 388.7 1026.7 390.8 1025.0 390.8 C1023.5 390.8 1023.1 388.5 1022.0 387.5 C1020.4 386.1 1016.1 385.4 1017.0 383.5Z"/><path d="M119.0 482.0 C120.5 479.6 124.3 480.1 127.0 479.6 C130.3 479.1 133.8 480.0 137.0 479.0 C138.8 478.4 141.5 476.8 141.0 475.0 C140.4 472.7 136.8 472.6 135.0 471.0 C133.8 469.9 132.0 468.7 132.0 467.0 C132.0 465.8 133.8 465.0 135.0 465.0 C137.1 465.0 139.4 465.6 141.0 467.0 C142.7 468.5 142.5 471.3 144.0 473.0 C145.6 474.8 148.6 475.0 150.0 477.0 C151.2 478.7 150.0 481.3 151.0 483.0 C152.1 484.8 156.7 485.0 156.0 487.0 C155.0 489.8 150.7 489.7 148.0 491.0 C145.7 492.1 143.5 493.7 141.0 494.4 C139.1 494.9 136.9 495.0 135.0 494.4 C132.4 493.5 130.3 491.6 128.0 490.0 C126.3 488.8 124.6 487.4 123.0 486.0 C121.6 484.7 118.0 483.6 119.0 482.0Z"/><path d="M109.0 493.0 C110.0 490.9 113.7 491.6 116.0 492.0 C117.6 492.3 119.4 493.4 120.0 495.0 C120.6 496.6 117.8 498.8 119.0 500.0 C121.0 501.9 124.3 501.4 127.0 501.6 C130.3 501.9 133.8 500.7 137.0 501.6 C139.4 502.3 141.0 504.5 143.0 506.0 C144.7 507.3 146.2 508.9 148.0 510.0 C151.2 511.9 155.8 512.0 158.0 515.0 C159.0 516.5 154.8 516.7 153.0 517.0 C149.4 517.6 145.6 518.4 142.0 517.6 C139.3 517.0 137.5 514.3 135.0 513.0 C131.8 511.4 128.5 509.9 125.0 509.0 C122.1 508.2 119.0 508.4 116.0 508.0 C113.7 507.7 110.0 509.1 109.0 507.0 C107.0 502.8 107.0 497.2 109.0 493.0Z"/><path d="M109.0 518.0 C109.9 515.5 114.4 518.2 117.0 519.0 C119.8 519.9 122.3 521.8 125.0 523.0 C128.3 524.5 131.7 525.5 135.0 527.0 C137.7 528.2 140.9 528.9 143.0 531.0 C144.8 532.8 144.4 536.0 146.0 538.0 C147.8 540.2 151.0 541.0 153.0 543.0 C154.4 544.4 156.5 546.1 156.0 548.0 C155.5 549.7 152.8 549.7 151.0 550.0 C146.4 550.7 141.7 550.6 137.0 551.0 C134.3 551.2 131.5 551.2 129.0 552.0 C126.5 552.8 124.7 555.6 122.0 556.0 C120.2 556.3 117.6 555.7 117.0 554.0 C116.3 552.0 119.7 550.0 119.0 548.0 C118.1 545.6 115.2 544.3 113.0 543.0 C111.8 542.3 109.2 543.4 109.0 542.0 C107.7 534.1 106.4 525.6 109.0 518.0Z"/><path d="M170.0 517.0 C170.2 515.3 171.5 513.7 173.0 513.0 C175.1 511.9 177.7 511.7 180.0 512.0 C181.8 512.2 184.1 512.8 185.0 514.4 C185.8 515.8 185.1 517.8 184.0 519.0 C182.5 520.6 180.1 521.2 178.0 522.0 C176.1 522.7 173.8 524.7 172.0 523.6 C170.1 522.4 169.8 519.3 170.0 517.0Z"/><path d="M149.0 615.0 C148.7 613.1 151.4 612.0 153.0 611.0 C154.8 609.8 156.9 608.8 159.0 608.4 C160.9 608.1 163.4 607.5 164.6 609.0 C165.7 610.3 163.0 612.3 163.4 614.0 C163.9 616.0 165.4 617.7 167.0 619.0 C169.4 620.8 172.4 621.6 175.0 623.0 C177.4 624.3 180.5 624.8 182.0 627.0 C183.0 628.5 182.6 631.0 181.4 632.4 C179.9 634.1 177.3 634.8 175.0 635.0 C172.0 635.3 168.9 634.9 166.0 634.0 C163.4 633.2 161.5 630.9 159.0 630.0 C156.1 628.9 152.6 629.6 150.0 628.0 C148.9 627.3 148.7 625.1 149.4 624.0 C150.5 622.3 154.7 623.0 154.6 621.0 C154.5 618.3 149.4 617.7 149.0 615.0Z"/><path d="M193.0 609.0 C193.5 606.8 195.9 605.3 198.0 604.4 C201.4 602.9 205.3 602.2 209.0 602.0 C213.0 601.8 217.1 601.9 221.0 603.0 C223.0 603.6 223.9 606.7 226.0 607.0 C229.6 607.6 233.3 605.6 237.0 605.6 C240.4 605.6 244.0 605.5 247.0 607.0 C248.2 607.6 249.0 610.0 248.0 611.0 C246.3 612.7 243.4 612.6 241.0 613.0 C237.4 613.6 233.4 612.5 230.0 614.0 C227.0 615.3 225.7 619.2 223.0 621.0 C220.6 622.6 217.8 623.6 215.0 624.0 C212.7 624.3 210.1 624.1 208.0 623.0 C205.9 621.9 204.8 619.5 203.0 618.0 C200.8 616.2 198.1 614.9 196.0 613.0 C194.8 611.9 192.6 610.6 193.0 609.0Z"/><path d="M233.0 619.0 C233.5 617.2 236.8 617.3 238.6 618.0 C240.7 618.8 241.5 621.4 243.0 623.0 C244.0 624.0 246.4 624.6 246.0 626.0 C245.4 628.1 242.8 628.8 241.0 630.0 C239.8 630.8 238.3 632.8 237.0 632.0 C235.5 631.1 236.0 628.7 236.0 627.0 C236.0 625.8 237.4 624.7 237.0 623.6 C236.3 621.7 232.4 621.0 233.0 619.0Z"/><path d="M145.0 643.0 C145.1 641.8 146.8 640.9 148.0 641.0 C150.2 641.2 152.3 642.6 154.0 644.0 C155.2 645.0 156.9 646.4 156.6 648.0 C156.4 649.4 154.4 650.0 153.0 650.0 C151.0 650.0 148.9 649.3 147.4 648.0 C146.0 646.8 144.8 644.8 145.0 643.0Z"/><path d="M311.2 64.5 C309.1 65.2 307.0 66.3 305.0 67.5 C303.2 68.6 300.6 69.3 300.0 71.2 C299.5 72.8 301.2 74.5 302.5 75.5 C304.3 76.8 306.6 77.7 308.8 77.5 C311.4 77.3 314.7 76.7 316.2 74.5 C317.2 73.2 315.0 71.5 313.8 70.5 C312.3 69.4 309.1 70.5 308.8 68.8 C308.4 67.0 311.6 66.5 312.5 65.0 C312.7 64.6 311.7 64.4 311.2 64.5Z"/><path d="M419.5 134.5 C420.9 132.1 424.8 132.2 427.5 132.5 C429.9 132.8 431.4 135.7 433.8 136.2 C436.6 137.0 439.6 135.6 442.5 136.2 C445.6 136.9 449.7 137.2 451.2 140.0 C452.3 141.8 449.2 143.8 447.5 145.0 C445.3 146.6 442.1 146.3 440.0 148.0 C437.8 149.8 437.1 153.0 435.0 155.0 C433.6 156.3 431.8 157.8 430.0 157.5 C428.2 157.2 426.7 155.5 426.2 153.8 C425.7 151.7 426.8 149.5 427.5 147.5 C428.0 146.1 430.6 145.1 430.0 143.8 C428.9 141.3 425.8 140.5 423.8 138.8 C422.2 137.4 418.5 136.2 419.5 134.5Z"/><path d="M436.2 203.8 C436.2 202.8 438.0 201.9 438.8 202.5 C440.2 203.6 440.0 206.2 441.2 207.5 C442.3 208.6 444.6 208.2 445.5 209.5 C446.0 210.2 444.6 211.2 443.8 211.2 C442.0 211.2 440.0 210.7 438.8 209.5 C437.3 208.0 436.2 205.8 436.2 203.8Z"/><path d="M469.0 64.0 C478.6 63.0 488.4 63.0 498.0 64.0 C499.1 64.1 497.1 66.6 496.0 66.8 C492.4 67.6 488.7 66.6 485.0 66.8 C483.0 66.9 480.9 66.9 479.0 67.5 C478.1 67.8 476.4 68.7 477.0 69.5 C478.1 70.9 480.3 71.0 482.0 71.5 C483.6 72.0 485.4 72.1 487.0 72.5 C488.7 73.0 491.7 72.5 492.0 74.2 C492.3 75.9 489.5 76.7 488.0 77.5 C486.1 78.5 483.8 78.4 482.0 79.5 C480.0 80.8 479.0 83.2 477.0 84.5 C475.5 85.4 473.7 85.6 472.0 85.8 C469.7 86.1 467.3 86.2 465.0 85.8 C462.9 85.4 461.0 84.2 459.0 83.5 C457.0 82.8 454.8 82.6 453.0 81.5 C452.2 81.0 451.8 79.9 452.0 79.0 C452.4 77.5 453.3 76.0 454.5 75.0 C456.1 73.6 458.3 73.2 460.0 72.0 C461.8 70.7 463.3 69.0 465.0 67.5 C466.3 66.3 467.2 64.2 469.0 64.0Z"/><path d="M1074.0 380.0 C1074.1 378.7 1075.2 377.2 1076.5 377.0 C1077.7 376.8 1079.0 377.9 1079.5 379.0 C1080.4 380.8 1081.4 383.2 1080.5 385.0 C1079.8 386.4 1077.2 386.9 1076.0 386.0 C1074.3 384.7 1073.9 382.1 1074.0 380.0Z"/></g>
<ellipse cx="334.6" cy="260.6" rx="2.4" ry="1.8" fill="#a3c2a5"/>
<ellipse cx="352.0" cy="377.6" rx="3.0" ry="1.4" fill="#a3c2a5"/>
<ellipse cx="281.0" cy="372.6" rx="2.8" ry="1.0" fill="#a3c2a5"/>
<ellipse cx="405.6" cy="198.4" rx="2.4" ry="2.4" fill="#a3c2a5"/>
<ellipse cx="439.0" cy="192.4" rx="2.8" ry="1.4" fill="#a3c2a5"/>
<ellipse cx="431.0" cy="198.4" rx="1.2" ry="1.2" fill="#a3c2a5"/>
<ellipse cx="348.0" cy="226.6" rx="2.8" ry="1.2" fill="#a3c2a5"/>
<ellipse cx="334.4" cy="260.6" rx="2.4" ry="1.6" fill="#a3c2a5"/>
<ellipse cx="542.0" cy="193.0" rx="9.0" ry="3.0" fill="#a3c2a5"/>
<ellipse cx="352.0" cy="377.6" rx="3.2" ry="1.4" fill="#a3c2a5"/>
<ellipse cx="431.0" cy="355.4" rx="2.8" ry="1.4" fill="#a3c2a5"/>
<ellipse cx="503.0" cy="372.4" rx="5.0" ry="2.8" fill="#a3c2a5"/>
<ellipse cx="483.6" cy="400.0" rx="6.4" ry="2.8" fill="#a3c2a5"/>
<ellipse cx="521.0" cy="400.4" rx="3.0" ry="0.8" fill="#a3c2a5"/>
<ellipse cx="540.0" cy="411.6" rx="9.6" ry="1.8" fill="#a3c2a5"/>
<ellipse cx="553.6" cy="427.6" rx="4.0" ry="1.2" fill="#a3c2a5"/>
<ellipse cx="582.0" cy="439.6" rx="6.4" ry="2.2" fill="#a3c2a5"/>
<ellipse cx="582.0" cy="439.4" rx="6.4" ry="2.4" fill="#a3c2a5"/>
<ellipse cx="735.0" cy="427.4" rx="4.4" ry="1.6" fill="#a3c2a5"/>
<ellipse cx="768.0" cy="400.6" rx="3.6" ry="2.0" fill="#a3c2a5"/>
<ellipse cx="897.0" cy="261.0" rx="12.0" ry="2.4" fill="#a3c2a5"/>
<ellipse cx="897.0" cy="306.0" rx="7.6" ry="1.0" fill="#a3c2a5"/>
<ellipse cx="859.0" cy="334.0" rx="2.8" ry="1.6" fill="#a3c2a5"/>
<ellipse cx="973.6" cy="400.6" rx="1.6" ry="0.8" fill="#a3c2a5"/>
<ellipse cx="896.0" cy="432.4" rx="4.4" ry="1.4" fill="#a3c2a5"/>
<ellipse cx="1019.0" cy="427.4" rx="8.4" ry="2.4" fill="#a3c2a5"/>
<ellipse cx="1037.6" cy="443.6" rx="1.6" ry="0.8" fill="#a3c2a5"/>
<ellipse cx="1025.4" cy="477.2" rx="1.2" ry="0.6" fill="#a3c2a5"/>
<ellipse cx="741.4" cy="289.4" rx="7.6" ry="3.6" fill="#a3c2a5"/>
<ellipse cx="727.0" cy="300.4" rx="4.0" ry="1.2" fill="#a3c2a5"/>
<ellipse cx="728.0" cy="311.4" rx="1.8" ry="1.4" fill="#a3c2a5"/>
<ellipse cx="656.0" cy="317.0" rx="3.2" ry="1.0" fill="#a3c2a5"/>
<ellipse cx="690.0" cy="322.0" rx="2.0" ry="1.8" fill="#a3c2a5"/>
<ellipse cx="859.0" cy="334.0" rx="3.0" ry="1.6" fill="#a3c2a5"/>
<ellipse cx="865.6" cy="249.4" rx="3.2" ry="1.2" fill="#a3c2a5"/>
<ellipse cx="865.0" cy="249.4" rx="3.2" ry="1.4" fill="#a3c2a5"/>
<ellipse cx="1163.5" cy="383.2" rx="6.5" ry="2.0" fill="#a3c2a5"/>
<ellipse cx="1206.0" cy="434.0" rx="1.5" ry="1.5" fill="#a3c2a5"/>
<ellipse cx="1135.0" cy="449.8" rx="2.0" ry="1.0" fill="#a3c2a5"/>
<ellipse cx="1038.0" cy="443.8" rx="2.0" ry="0.8" fill="#a3c2a5"/>
<ellipse cx="152.0" cy="559.0" rx="8.0" ry="2.8" fill="#a3c2a5"/>
<ellipse cx="160.0" cy="499.0" rx="1.6" ry="1.0" fill="#a3c2a5"/>
<ellipse cx="256.4" cy="570.6" rx="1.2" ry="0.8" fill="#a3c2a5"/>
<ellipse cx="269.0" cy="593.0" rx="2.0" ry="1.2" fill="#a3c2a5"/>
<ellipse cx="268.4" cy="603.0" rx="2.8" ry="1.8" fill="#a3c2a5"/>
<ellipse cx="191.0" cy="636.4" rx="3.2" ry="1.2" fill="#a3c2a5"/>
<ellipse cx="211.0" cy="630.4" rx="2.0" ry="1.6" fill="#a3c2a5"/>
<ellipse cx="212.0" cy="642.0" rx="2.0" ry="1.0" fill="#a3c2a5"/>
<ellipse cx="269.4" cy="637.0" rx="2.4" ry="1.0" fill="#a3c2a5"/>
<ellipse cx="463.0" cy="98.8" rx="2.0" ry="1.0" fill="#a3c2a5"/>
<ellipse cx="451.2" cy="110.5" rx="3.5" ry="1.2" fill="#a3c2a5"/>
<ellipse cx="450.0" cy="122.5" rx="4.5" ry="1.5" fill="#a3c2a5"/>
<ellipse cx="476.2" cy="122.0" rx="4.5" ry="1.5" fill="#a3c2a5"/>
<ellipse cx="405.0" cy="198.2" rx="2.5" ry="2.5" fill="#a3c2a5"/>
<ellipse cx="438.8" cy="192.0" rx="2.5" ry="1.2" fill="#a3c2a5"/>
<ellipse cx="431.2" cy="198.0" rx="1.2" ry="1.0" fill="#a3c2a5"/>
<ellipse cx="347.5" cy="226.5" rx="3.0" ry="1.2" fill="#a3c2a5"/>
<ellipse cx="463.0" cy="98.8" rx="2.0" ry="1.0" fill="#a3c2a5"/>
<ellipse cx="451.5" cy="110.6" rx="3.5" ry="1.3" fill="#a3c2a5"/>
<ellipse cx="450.0" cy="122.5" rx="5.0" ry="1.5" fill="#a3c2a5"/>
<ellipse cx="476.0" cy="122.0" rx="5.0" ry="2.0" fill="#a3c2a5"/>
<g fill="#fff5f2" stroke="none"><path d="M616.0 461.0 C617.9 458.3 622.8 460.1 626.0 461.0 C629.0 461.8 632.6 463.2 634.0 466.0 C634.7 467.5 631.6 468.7 630.0 469.0 C627.0 469.5 623.6 469.5 621.0 468.0 C618.5 466.6 614.3 463.3 616.0 461.0Z"/><path d="M664.0 472.0 C661.8 469.2 670.6 469.2 674.0 468.0 C676.6 467.1 679.2 465.9 682.0 465.6 C685.6 465.1 689.8 463.8 693.0 465.6 C694.6 466.5 691.6 469.2 690.0 470.0 C686.3 471.8 682.1 472.7 678.0 473.0 C673.3 473.4 666.9 475.7 664.0 472.0Z"/><path d="M686.0 482.0 C686.7 480.0 689.8 479.6 692.0 479.6 C695.4 479.6 699.7 479.5 702.0 482.0 C703.3 483.4 699.8 485.5 698.0 486.0 C695.4 486.8 692.5 486.4 690.0 485.6 C688.3 485.0 685.4 483.7 686.0 482.0Z"/><path d="M826.0 432.4 C828.7 430.0 832.5 429.1 836.0 428.0 C838.2 427.3 840.9 425.9 843.0 427.0 C844.2 427.6 843.0 430.1 842.0 431.0 C839.8 433.0 836.9 434.2 834.0 435.0 C832.1 435.5 829.9 435.6 828.0 435.0 C827.0 434.7 825.2 433.1 826.0 432.4Z"/><path d="M843.0 445.0 C843.6 443.0 846.9 442.6 849.0 443.0 C851.1 443.4 853.4 445.0 854.0 447.0 C854.6 448.8 853.8 451.6 852.0 452.4 C850.3 453.1 848.4 451.2 847.0 450.0 C845.4 448.6 842.4 447.1 843.0 445.0Z"/><path d="M913.0 357.0 C915.6 354.7 919.5 353.8 923.0 354.0 C927.2 354.2 931.0 356.8 935.0 358.0 C939.0 359.2 944.4 357.8 947.0 361.0 C948.7 363.1 944.8 366.0 943.0 368.0 C940.7 370.4 937.4 371.6 935.0 374.0 C933.3 375.7 932.8 378.5 931.0 380.0 C928.7 381.9 925.5 382.4 923.0 384.0 C920.2 385.8 918.0 388.5 915.0 390.0 C912.5 391.2 909.7 392.3 907.0 392.0 C904.0 391.6 901.1 390.1 899.0 388.0 C897.5 386.5 898.6 383.4 897.0 382.0 C894.9 380.1 891.8 379.6 889.0 379.0 C885.7 378.3 880.7 380.9 879.0 378.0 C877.6 375.5 882.5 373.3 885.0 372.0 C888.7 370.2 893.2 370.7 897.0 369.0 C899.4 367.9 900.6 365.1 903.0 364.0 C906.8 362.3 911.6 363.4 915.0 361.0 C916.2 360.1 911.9 358.0 913.0 357.0Z"/><path d="M881.0 393.0 C883.3 390.5 887.6 390.4 891.0 391.0 C894.1 391.5 896.9 393.7 899.0 396.0 C901.0 398.2 901.8 401.3 903.0 404.0 C904.1 406.6 906.0 409.2 906.0 412.0 C906.0 414.8 905.6 418.8 903.0 420.0 C898.8 422.0 892.6 422.9 889.0 420.0 C885.9 417.5 889.2 411.8 888.0 408.0 C887.1 405.0 884.3 402.8 883.0 400.0 C882.0 397.8 879.4 394.8 881.0 393.0Z"/><path d="M795.0 411.0 C798.1 408.4 803.0 409.5 807.0 410.0 C808.9 410.2 812.0 411.1 812.0 413.0 C812.0 415.9 809.7 418.9 807.0 420.0 C803.3 421.5 798.2 422.4 795.0 420.0 C792.6 418.2 792.7 412.9 795.0 411.0Z"/><path d="M795.0 425.0 C797.6 422.9 801.9 424.8 805.0 426.0 C806.6 426.6 808.4 428.4 808.0 430.0 C807.5 432.1 805.0 433.4 803.0 434.0 C800.5 434.8 796.8 436.0 795.0 434.0 C793.0 431.8 792.7 426.9 795.0 425.0Z"/><path d="M825.0 433.0 C826.0 429.4 831.5 429.2 835.0 428.0 C837.5 427.2 840.5 425.9 843.0 427.0 C844.3 427.5 843.1 430.1 842.0 431.0 C839.4 433.1 836.3 434.6 833.0 435.0 C830.3 435.3 824.2 435.6 825.0 433.0Z"/><path d="M843.0 444.4 C843.5 442.7 846.4 442.5 848.0 443.0 C850.5 443.8 853.2 445.5 854.0 448.0 C854.5 449.7 852.7 452.0 851.0 452.4 C849.2 452.8 847.3 451.3 846.0 450.0 C844.5 448.5 842.4 446.4 843.0 444.4Z"/><path d="M835.0 464.0 C833.6 462.6 836.3 460.0 838.0 459.0 C838.8 458.5 840.5 460.2 840.0 461.0 C839.0 462.7 836.4 465.4 835.0 464.0Z"/><path d="M1199.0 379.0 C1199.4 377.8 1200.8 377.1 1202.0 376.5 C1203.2 375.9 1204.7 375.2 1206.0 375.5 C1207.0 375.8 1208.0 376.9 1208.0 378.0 C1208.0 378.9 1206.9 379.6 1206.0 379.8 C1204.4 380.1 1202.7 379.7 1201.0 379.5 C1200.3 379.4 1198.8 379.7 1199.0 379.0Z"/><path d="M1178.0 413.0 C1180.4 413.6 1182.6 411.5 1185.0 411.0 C1187.0 410.5 1189.0 410.3 1191.0 410.0 C1193.3 409.6 1195.8 409.7 1198.0 409.0 C1199.5 408.5 1202.0 408.1 1202.0 406.5 C1202.0 404.9 1199.3 404.8 1198.0 404.0 C1196.7 403.2 1195.5 402.1 1194.0 401.5 C1192.4 400.9 1190.6 400.0 1189.0 400.5 C1187.3 401.0 1186.3 402.7 1185.0 404.0 C1184.2 404.8 1183.8 405.8 1183.0 406.5 C1181.8 407.6 1180.0 408.2 1179.0 409.5 C1178.3 410.5 1176.8 412.7 1178.0 413.0Z"/><path d="M1191.0 414.0 C1196.9 413.1 1203.3 411.2 1209.0 413.0 C1211.2 413.7 1210.5 417.7 1210.0 420.0 C1209.7 421.2 1208.2 422.0 1207.0 422.0 C1203.9 422.0 1201.0 420.8 1198.0 420.0 C1196.3 419.5 1194.6 418.8 1193.0 418.0 C1191.9 417.5 1190.5 417.1 1190.0 416.0 C1189.7 415.3 1190.3 414.1 1191.0 414.0Z"/><path d="M1171.0 428.0 C1171.0 425.4 1174.2 423.9 1176.0 422.0 C1177.2 420.7 1178.3 418.9 1180.0 418.5 C1181.4 418.2 1182.8 419.2 1184.0 420.0 C1185.6 421.1 1186.5 422.8 1188.0 424.0 C1189.5 425.2 1191.1 426.5 1193.0 427.0 C1195.2 427.7 1200.0 425.2 1200.0 427.5 C1200.0 430.0 1195.3 429.2 1193.0 430.0 C1190.0 431.0 1187.0 432.1 1184.0 433.0 C1181.4 433.8 1178.6 436.0 1176.0 435.0 C1173.3 434.0 1171.0 430.9 1171.0 428.0Z"/><path d="M1150.0 409.0 C1150.0 411.1 1153.1 412.0 1155.0 413.0 C1156.9 414.0 1159.1 414.1 1161.0 415.0 C1162.5 415.7 1163.3 418.0 1165.0 418.0 C1166.1 418.0 1166.5 415.9 1166.0 415.0 C1164.9 413.1 1162.9 412.0 1161.0 411.0 C1159.1 410.0 1157.1 409.4 1155.0 409.0 C1153.4 408.7 1150.0 407.3 1150.0 409.0Z"/><path d="M1115.0 406.0 C1115.5 404.0 1118.9 404.3 1121.0 404.5 C1123.2 404.7 1125.0 406.2 1127.0 407.0 C1129.3 407.9 1132.9 407.3 1134.0 409.5 C1134.8 411.1 1130.6 410.4 1129.0 411.0 C1127.3 411.6 1125.8 412.8 1124.0 413.0 C1122.3 413.2 1120.3 413.0 1119.0 412.0 C1117.1 410.5 1114.4 408.3 1115.0 406.0Z"/><path d="M1032.0 411.0 C1032.3 409.1 1034.5 408.2 1036.0 407.0 C1037.5 405.8 1039.1 404.5 1041.0 404.0 C1042.8 403.6 1045.3 403.1 1046.5 404.5 C1047.4 405.6 1045.9 407.4 1045.0 408.5 C1043.7 410.2 1041.9 411.6 1040.0 412.5 C1038.5 413.2 1036.6 413.3 1035.0 413.0 C1033.8 412.8 1031.8 412.2 1032.0 411.0Z"/><path d="M1045.0 421.5 C1045.8 419.9 1048.3 419.9 1050.0 420.0 C1051.2 420.1 1052.5 420.9 1053.0 422.0 C1053.5 422.9 1053.4 424.6 1052.5 425.0 C1051.1 425.6 1049.4 424.6 1048.0 424.0 C1046.8 423.4 1044.4 422.7 1045.0 421.5Z"/><path d="M1054.0 427.0 C1055.3 425.9 1057.3 425.8 1059.0 426.0 C1060.5 426.2 1063.0 426.5 1063.0 428.0 C1063.0 429.5 1060.5 429.7 1059.0 430.0 C1057.5 430.3 1055.8 430.8 1054.5 430.0 C1053.6 429.5 1053.2 427.7 1054.0 427.0Z"/><path d="M1060.0 398.0 C1060.6 396.8 1062.9 396.2 1064.0 397.0 C1065.3 397.9 1065.7 400.1 1065.0 401.5 C1064.5 402.4 1062.8 401.6 1062.0 401.0 C1061.0 400.3 1059.5 399.1 1060.0 398.0Z"/></g>
<ellipse cx="193.0" cy="294.0" rx="4.0" ry="1.6" fill="#fff5f2"/>
<ellipse cx="338.0" cy="299.0" rx="6.0" ry="2.8" fill="#fff5f2"/>
<ellipse cx="447.0" cy="232.4" rx="7.0" ry="2.8" fill="#fff5f2"/>
<ellipse cx="446.0" cy="244.0" rx="3.6" ry="1.2" fill="#fff5f2"/>
<ellipse cx="412.0" cy="294.0" rx="6.0" ry="3.6" fill="#fff5f2"/>
<ellipse cx="495.0" cy="320.0" rx="10.0" ry="4.4" fill="#fff5f2"/>
<ellipse cx="496.0" cy="339.0" rx="6.0" ry="4.0" fill="#fff5f2"/>
<ellipse cx="424.0" cy="306.0" rx="2.4" ry="2.4" fill="#fff5f2"/>
<ellipse cx="458.0" cy="333.6" rx="3.0" ry="1.2" fill="#fff5f2"/>
<ellipse cx="657.0" cy="416.4" rx="2.8" ry="1.6" fill="#fff5f2"/>
<ellipse cx="675.0" cy="444.4" rx="4.4" ry="1.0" fill="#fff5f2"/>
<ellipse cx="644.0" cy="439.0" rx="1.6" ry="1.6" fill="#fff5f2"/>
<ellipse cx="734.0" cy="461.0" rx="2.0" ry="1.6" fill="#fff5f2"/>
<ellipse cx="785.0" cy="461.6" rx="4.4" ry="2.0" fill="#fff5f2"/>
<ellipse cx="824.0" cy="450.4" rx="4.0" ry="1.6" fill="#fff5f2"/>
<ellipse cx="837.0" cy="461.0" rx="3.0" ry="3.0" fill="#fff5f2"/>
<ellipse cx="962.0" cy="367.4" rx="5.0" ry="2.8" fill="#fff5f2"/>
<ellipse cx="962.6" cy="377.4" rx="4.4" ry="2.4" fill="#fff5f2"/>
<ellipse cx="864.0" cy="362.4" rx="1.6" ry="1.2" fill="#fff5f2"/>
<ellipse cx="824.0" cy="450.0" rx="4.0" ry="1.6" fill="#fff5f2"/>
<ellipse cx="864.0" cy="405.6" rx="1.2" ry="1.2" fill="#fff5f2"/>
<ellipse cx="946.4" cy="423.0" rx="5.0" ry="2.0" fill="#fff5f2"/>
<ellipse cx="1199.0" cy="395.0" rx="4.0" ry="3.0" fill="#fff5f2"/>
<g fill="#2e947f" stroke="none"><path d="M167.0 316.0 C166.0 313.6 170.0 311.7 172.0 310.0 C175.1 307.3 178.4 305.0 182.0 303.0 C184.5 301.6 187.2 300.6 190.0 300.0 C193.3 299.3 196.7 299.2 200.0 299.4 C201.7 299.5 203.5 300.1 205.0 301.0 C207.9 302.7 210.4 304.9 213.0 307.0 C214.1 307.9 214.8 309.3 216.0 310.0 C218.5 311.4 221.2 313.5 224.0 313.0 C226.1 312.6 228.2 310.1 228.0 308.0 C227.8 305.9 222.7 306.1 223.0 304.0 C223.3 301.6 228.1 302.2 229.0 300.0 C229.6 298.7 227.2 297.7 226.0 297.0 C224.5 296.0 219.7 296.3 221.0 295.0 C223.2 292.8 226.9 293.1 230.0 293.0 C233.4 292.9 236.7 293.9 240.0 294.4 C243.3 294.9 246.7 295.4 250.0 296.0 C251.7 296.3 254.3 295.4 255.0 297.0 C256.1 299.5 255.0 302.5 254.0 305.0 C252.9 307.7 248.1 309.3 249.0 312.0 C250.1 315.4 254.5 317.5 258.0 317.6 C260.9 317.7 262.5 313.8 265.0 312.4 C268.2 310.6 271.4 308.7 275.0 308.0 C277.6 307.5 280.5 307.9 283.0 309.0 C285.7 310.2 287.5 312.8 290.0 314.4 C292.5 316.0 295.1 317.9 298.0 318.4 C300.3 318.8 302.6 316.9 305.0 317.0 C307.8 317.1 310.9 317.4 313.0 319.2 C314.5 320.5 313.0 323.3 314.0 325.0 C315.1 326.8 317.0 328.2 319.0 329.0 C321.5 330.0 324.3 330.4 327.0 330.4 C330.4 330.4 333.8 330.2 337.0 329.0 C339.7 328.0 343.0 326.7 344.0 324.0 C345.0 321.4 341.9 318.7 342.0 316.0 C342.2 312.2 342.7 308.0 345.0 305.0 C347.4 302.0 351.3 300.3 355.0 299.2 C359.5 297.9 364.3 297.8 369.0 298.0 C373.7 298.2 378.3 300.8 383.0 300.4 C386.6 300.1 389.4 296.5 393.0 296.0 C397.0 295.5 404.2 293.6 405.0 297.6 C408.8 317.4 408.4 338.2 405.0 358.0 C404.4 361.4 398.4 355.9 395.0 356.0 C391.6 356.1 388.4 358.2 385.0 358.4 C381.6 358.6 378.2 358.2 375.0 357.2 C371.5 356.1 368.6 353.4 365.0 352.4 C362.6 351.7 359.8 353.3 357.4 352.4 C355.5 351.7 352.7 350.1 353.0 348.0 C353.4 344.7 357.0 342.7 359.0 340.0 C360.5 338.0 363.7 336.5 363.4 334.0 C363.0 331.2 360.2 328.3 357.4 328.0 C353.7 327.6 350.4 330.8 347.0 332.4 C344.3 333.6 341.9 335.9 339.0 336.4 C335.7 337.0 332.2 336.4 329.0 335.6 C326.2 334.9 323.7 333.1 321.0 332.0 C318.4 330.9 315.8 329.6 313.0 329.0 C310.4 328.4 307.6 328.0 305.0 328.4 C300.8 329.1 297.0 331.2 293.0 332.4 C288.4 333.8 283.7 335.1 279.0 336.4 C275.7 337.3 272.0 337.5 269.0 339.2 C267.2 340.2 263.1 343.2 265.0 344.0 C269.3 345.7 274.3 343.7 279.0 343.2 C283.7 342.7 288.3 340.7 293.0 341.2 C297.3 341.7 301.4 343.6 305.0 346.0 C305.9 346.6 306.0 348.8 305.0 349.2 C301.2 350.6 296.9 349.4 293.0 350.4 C290.1 351.2 287.8 353.4 285.0 354.4 C282.4 355.4 279.6 355.6 277.0 356.4 C273.0 357.6 269.0 359.2 265.0 360.4 C262.5 361.2 259.6 360.9 257.4 362.4 C255.4 363.8 255.5 367.3 253.4 368.4 C249.8 370.2 244.8 368.3 241.4 370.4 C238.9 372.0 239.6 376.4 237.4 378.4 C235.9 379.7 233.3 379.8 231.4 379.2 C228.4 378.3 226.1 376.0 223.4 374.4 C220.1 372.4 216.9 370.0 213.4 368.4 C209.6 366.7 205.3 366.0 201.4 364.4 C198.6 363.3 195.7 362.3 193.4 360.4 C191.6 358.9 190.7 356.4 189.4 354.4 C188.1 352.4 186.4 350.6 185.4 348.4 C184.2 345.7 183.2 342.9 183.0 340.0 C182.8 337.3 184.2 334.7 184.0 332.0 C183.8 329.3 183.5 326.3 182.0 324.0 C180.7 322.0 178.1 321.1 176.0 320.0 C173.1 318.5 168.2 319.0 167.0 316.0Z"/><path d="M408.0 220.0 C409.6 218.5 411.8 217.0 414.0 217.0 C416.2 217.0 418.1 218.8 420.0 220.0 C422.2 221.4 424.1 223.2 426.0 225.0 C428.1 226.9 430.5 228.6 432.0 231.0 C433.3 233.1 432.7 236.0 434.0 238.0 C436.1 241.1 439.1 243.6 442.0 246.0 C445.8 249.0 450.1 251.2 454.0 254.0 C456.1 255.5 457.6 257.9 460.0 259.0 C462.8 260.3 466.5 259.2 469.0 261.0 C470.1 261.8 469.1 264.2 468.0 265.0 C465.7 266.5 457.5 265.8 460.0 267.0 C465.4 269.7 472.3 267.9 478.0 270.0 C479.3 270.5 480.2 273.3 479.0 274.0 C476.4 275.6 472.7 273.8 470.0 275.0 C468.6 275.6 467.6 277.6 468.0 279.0 C468.5 280.8 472.4 281.2 472.0 283.0 C471.4 285.5 465.5 285.4 466.0 288.0 C466.6 291.3 470.8 292.9 474.0 294.0 C481.1 296.4 489.0 295.5 496.0 298.0 C497.8 298.7 499.3 301.1 499.0 303.0 C498.5 305.8 496.5 308.5 494.0 310.0 C490.4 312.1 486.0 312.1 482.0 313.0 C478.7 313.8 475.2 313.8 472.0 315.0 C470.7 315.5 470.2 317.3 469.0 318.0 C467.5 319.0 465.7 319.4 464.0 320.0 C461.7 320.8 459.0 320.7 457.0 322.0 C455.8 322.8 456.1 325.0 455.0 326.0 C453.0 327.8 450.2 328.4 448.0 330.0 C446.5 331.1 445.5 332.9 444.0 334.0 C442.8 334.9 441.2 335.2 440.0 336.0 C438.2 337.2 437.0 339.2 435.0 340.0 C430.2 341.9 425.0 342.6 420.0 344.0 C416.6 344.9 413.4 346.3 410.0 347.0 C406.7 347.7 401.9 350.7 400.0 348.0 C397.1 343.9 398.0 337.6 400.0 333.0 C401.2 330.4 406.1 332.2 408.0 330.0 C409.0 328.9 405.3 327.3 406.0 326.0 C407.1 324.1 409.8 323.5 412.0 323.0 C414.6 322.4 417.4 323.6 420.0 323.0 C421.6 322.6 422.6 321.0 424.0 320.0 C426.0 318.6 428.4 317.8 430.0 316.0 C431.5 314.3 432.6 312.2 433.0 310.0 C433.3 308.7 433.2 306.7 432.0 306.0 C428.4 303.8 420.8 306.1 420.0 302.0 C419.2 298.2 427.0 298.5 430.0 296.0 C431.8 294.4 434.4 292.4 434.0 290.0 C433.5 287.2 429.6 286.3 428.0 284.0 C426.3 281.6 425.7 278.4 424.0 276.0 C422.4 273.7 417.8 272.8 418.0 270.0 C418.3 267.0 423.9 267.2 425.0 264.4 C425.7 262.5 422.9 260.9 422.4 259.0 C421.7 256.1 421.6 253.0 421.6 250.0 C421.6 247.5 424.1 244.3 422.4 242.4 C419.7 239.3 413.9 240.9 411.0 238.0 C409.8 236.8 413.8 236.2 415.0 235.0 C416.5 233.5 420.1 231.9 419.0 230.0 C417.6 227.6 413.3 229.4 411.0 228.0 C409.3 226.9 408.3 224.9 407.6 223.0 C407.2 222.1 407.3 220.7 408.0 220.0Z"/><path d="M552.4 209.0 C553.9 206.6 557.2 205.4 560.0 205.0 C562.1 204.7 564.5 205.5 566.0 207.0 C567.8 208.8 569.0 211.5 569.0 214.0 C569.0 215.9 567.7 218.1 566.0 219.0 C563.6 220.3 560.6 220.6 558.0 220.0 C555.9 219.5 554.0 217.9 553.0 216.0 C551.9 213.9 551.1 211.0 552.4 209.0Z"/><path d="M560.0 223.0 C562.7 221.0 566.7 222.5 570.0 223.0 C573.1 223.5 576.9 223.6 579.0 226.0 C580.2 227.4 578.6 230.2 577.0 231.0 C574.3 232.4 571.0 232.0 568.0 231.6 C565.8 231.3 563.5 230.6 562.0 229.0 C560.6 227.5 558.3 224.3 560.0 223.0Z"/><path d="M573.0 235.0 C574.4 232.3 578.9 232.7 582.0 233.0 C585.6 233.4 589.7 234.2 592.0 237.0 C593.1 238.4 589.7 239.9 588.0 240.4 C584.8 241.3 581.1 242.1 578.0 241.0 C575.6 240.1 571.8 237.3 573.0 235.0Z"/><path d="M636.0 432.0 C638.7 429.6 642.7 429.3 646.0 428.0 C649.3 426.7 652.7 425.5 656.0 424.0 C658.7 422.8 661.1 420.5 664.0 420.0 C667.3 419.4 671.1 419.4 674.0 421.0 C675.5 421.8 675.4 424.3 675.0 426.0 C674.6 427.6 671.8 428.3 672.0 430.0 C672.2 432.1 674.0 434.1 676.0 435.0 C680.4 436.9 685.7 435.9 690.0 438.0 C691.1 438.5 689.2 440.8 688.0 441.0 C684.7 441.7 681.3 440.9 678.0 440.4 C674.0 439.8 670.0 438.6 666.0 438.0 C662.0 437.4 658.0 437.4 654.0 437.0 C650.7 436.7 647.3 436.4 644.0 436.0 C642.0 435.7 639.8 435.9 638.0 435.0 C636.9 434.5 635.1 432.8 636.0 432.0Z"/><path d="M642.0 472.0 C642.8 468.3 647.0 466.3 650.0 464.0 C652.4 462.2 656.7 462.7 658.0 460.0 C658.8 458.3 652.9 457.5 654.0 456.0 C656.2 453.1 660.6 453.0 664.0 452.0 C668.6 450.7 673.3 449.9 678.0 449.0 C682.0 448.2 685.9 446.8 690.0 447.0 C694.1 447.2 698.1 448.8 702.0 450.0 C704.7 450.8 707.2 452.7 710.0 453.0 C713.3 453.4 717.5 449.8 720.0 452.0 C722.1 453.8 717.3 457.3 718.0 460.0 C718.8 463.2 721.4 465.9 724.0 468.0 C726.2 469.8 730.0 469.0 732.0 471.0 C732.8 471.8 731.2 473.7 730.0 474.0 C726.1 475.1 722.0 474.6 718.0 475.0 C715.3 475.3 712.6 475.3 710.0 476.0 C707.2 476.7 704.8 479.5 702.0 479.0 C699.9 478.6 698.4 476.1 698.0 474.0 C697.6 471.9 700.8 470.0 700.0 468.0 C699.1 465.8 696.2 465.0 694.0 464.0 C690.8 462.6 687.5 461.2 684.0 461.0 C681.3 460.8 678.6 462.0 676.0 463.0 C672.5 464.4 669.5 466.8 666.0 468.0 C662.8 469.1 659.3 469.1 656.0 470.0 C653.3 470.8 650.8 472.6 648.0 473.0 C646.0 473.3 641.6 474.0 642.0 472.0Z"/><path d="M736.0 472.0 C737.7 469.5 742.1 470.3 744.0 468.0 C745.8 465.9 744.9 462.5 746.0 460.0 C746.9 457.8 748.0 455.4 750.0 454.0 C753.6 451.5 757.8 450.2 762.0 449.0 C767.2 447.5 772.7 447.2 778.0 446.0 C782.7 444.9 787.4 443.5 792.0 442.0 C796.7 440.5 801.1 437.9 806.0 437.0 C810.3 436.2 814.9 435.6 819.0 437.0 C820.3 437.4 819.1 440.2 818.0 441.0 C814.4 443.5 810.1 444.5 806.0 446.0 C802.1 447.5 797.9 448.4 794.0 450.0 C789.9 451.7 786.2 454.4 782.0 456.0 C778.1 457.4 773.6 457.0 770.0 459.0 C767.3 460.5 766.4 464.1 764.0 466.0 C761.7 467.8 758.6 468.6 756.0 470.0 C752.6 471.9 749.6 474.6 746.0 476.0 C743.5 477.0 740.5 478.0 738.0 477.0 C736.3 476.3 735.0 473.5 736.0 472.0Z"/><path d="M824.0 444.0 C824.8 440.9 829.0 440.1 832.0 439.0 C835.5 437.7 839.7 435.3 843.0 437.0 C845.0 438.0 841.8 441.6 840.0 443.0 C837.2 445.2 833.6 446.8 830.0 447.0 C827.8 447.1 823.5 446.2 824.0 444.0Z"/><path d="M824.0 374.0 C827.3 371.5 831.9 371.6 836.0 371.0 C840.6 370.3 845.3 370.1 850.0 370.0 C856.7 369.8 865.5 365.1 870.0 370.0 C874.9 375.4 871.4 384.8 870.0 392.0 C869.3 395.3 866.0 397.3 864.0 400.0 C862.0 402.7 860.7 406.1 858.0 408.0 C855.1 410.0 851.2 409.6 848.0 411.0 C845.8 412.0 844.4 414.6 842.0 415.0 C838.0 415.7 833.8 415.2 830.0 414.0 C827.0 413.1 824.6 410.8 822.0 409.0 C820.2 407.8 817.3 407.1 817.0 405.0 C816.8 403.1 819.2 401.6 821.0 401.0 C825.1 399.5 830.1 401.1 834.0 399.0 C835.9 398.0 837.6 394.4 836.0 393.0 C833.5 390.8 829.3 391.3 826.0 392.0 C824.2 392.4 823.8 396.6 822.0 396.0 C820.4 395.5 821.7 392.1 823.0 391.0 C825.4 388.8 829.7 389.3 832.0 387.0 C833.2 385.8 830.8 383.2 832.0 382.0 C833.4 380.6 836.0 380.8 838.0 381.0 C842.1 381.5 845.9 383.8 850.0 384.0 C852.7 384.1 858.0 384.7 858.0 382.0 C858.0 378.9 853.0 377.9 850.0 377.0 C846.2 375.8 842.0 376.0 838.0 376.0 C834.7 376.0 831.3 377.5 828.0 377.0 C826.4 376.8 822.7 375.0 824.0 374.0Z"/><path d="M880.0 340.0 C878.6 336.9 886.0 336.6 889.0 335.0 C892.3 333.3 895.6 331.4 899.0 330.0 C902.9 328.4 907.5 328.4 911.0 326.0 C913.2 324.5 912.5 320.1 915.0 319.0 C919.9 316.8 925.6 317.5 931.0 317.0 C936.3 316.5 941.7 315.8 947.0 316.0 C951.7 316.2 956.4 317.0 961.0 318.0 C964.4 318.7 968.1 319.1 971.0 321.0 C972.5 322.0 974.1 324.6 973.0 326.0 C971.3 328.3 967.7 328.0 965.0 329.0 C962.3 330.0 959.8 332.2 957.0 332.0 C955.1 331.8 954.9 327.7 953.0 328.0 C951.2 328.3 952.4 331.9 951.0 333.0 C948.8 334.8 944.4 333.5 943.0 336.0 C942.1 337.6 945.7 338.7 947.0 340.0 C948.3 341.3 951.8 342.3 951.0 344.0 C949.7 346.7 945.7 346.7 943.0 348.0 C939.7 349.7 936.7 352.4 933.0 353.0 C929.6 353.5 925.2 353.6 923.0 351.0 C921.6 349.4 928.1 347.9 927.0 346.0 C925.6 343.6 921.7 343.7 919.0 344.0 C916.0 344.4 913.9 347.4 911.0 348.0 C907.7 348.7 904.3 348.7 901.0 348.0 C898.1 347.4 895.8 345.1 893.0 344.0 C888.8 342.4 881.8 344.1 880.0 340.0Z"/><path d="M949.0 306.0 C949.5 302.9 954.3 302.6 957.0 301.0 C958.7 300.0 960.6 296.6 962.0 298.0 C963.7 299.7 959.7 303.0 961.0 305.0 C962.6 307.5 966.2 307.9 969.0 309.0 C971.3 309.9 975.2 308.7 976.0 311.0 C976.7 313.0 972.9 314.1 971.0 315.0 C968.5 316.2 965.7 317.2 963.0 317.0 C960.2 316.8 957.2 315.8 955.0 314.0 C952.4 311.9 948.5 309.3 949.0 306.0Z"/><path d="M823.0 374.0 C826.3 371.5 831.0 372.1 835.0 371.0 C838.4 370.1 841.5 367.8 845.0 368.0 C848.6 368.2 852.0 370.1 855.0 372.0 C857.4 373.5 858.8 376.3 861.0 378.0 C863.5 379.9 866.0 382.0 869.0 383.0 C872.8 384.3 878.4 381.9 881.0 385.0 C882.7 387.0 876.9 388.2 875.0 390.0 C872.9 391.9 871.0 394.0 869.0 396.0 C867.7 397.3 866.5 398.9 865.0 400.0 C861.8 402.3 858.2 403.8 855.0 406.0 C852.2 407.8 849.8 410.2 847.0 412.0 C844.5 413.6 842.0 416.0 839.0 416.0 C834.1 416.0 829.3 414.3 825.0 412.0 C821.7 410.2 817.6 407.7 817.0 404.0 C816.6 401.6 821.7 402.0 823.0 400.0 C823.7 398.8 821.0 397.0 822.0 396.0 C824.3 393.7 829.0 394.6 831.0 392.0 C833.1 389.3 830.6 384.4 833.0 382.0 C835.4 379.6 840.6 382.4 843.0 380.0 C844.4 378.6 839.9 377.4 838.0 377.0 C834.4 376.3 830.6 377.7 827.0 377.0 C825.4 376.7 821.7 375.0 823.0 374.0Z"/><path d="M930.0 399.4 C932.1 397.4 935.1 395.9 938.0 396.0 C941.0 396.1 945.5 397.1 946.0 400.0 C946.4 402.4 941.5 402.1 939.0 402.4 C936.7 402.7 934.2 402.3 932.0 401.6 C931.1 401.3 929.3 400.1 930.0 399.4Z"/><path d="M795.0 444.0 C796.8 441.5 800.1 440.2 803.0 439.0 C806.2 437.7 809.6 436.6 813.0 436.4 C815.4 436.3 819.3 435.7 820.0 438.0 C820.7 440.3 817.0 441.8 815.0 443.0 C811.9 444.8 808.4 445.8 805.0 447.0 C801.7 448.1 798.3 451.0 795.0 450.0 C793.1 449.4 793.8 445.6 795.0 444.0Z"/><path d="M824.0 444.0 C823.6 441.2 828.3 440.0 831.0 439.0 C834.5 437.8 838.5 436.4 842.0 437.6 C843.5 438.1 841.2 440.9 840.0 442.0 C837.7 444.0 835.0 446.0 832.0 446.4 C829.2 446.7 824.4 446.8 824.0 444.0Z"/><path d="M619.0 278.0 C620.3 275.9 623.5 275.7 626.0 275.6 C629.4 275.4 632.8 276.1 636.0 277.0 C638.2 277.6 641.1 278.0 642.0 280.0 C643.1 282.4 640.2 285.5 641.0 288.0 C641.7 290.0 644.4 290.6 646.0 292.0 C647.4 293.3 650.8 294.3 650.0 296.0 C648.7 298.7 644.9 299.2 642.0 300.0 C638.1 301.1 634.0 301.7 630.0 301.6 C627.6 301.5 624.6 301.4 623.0 299.6 C622.1 298.6 624.9 297.7 626.0 297.0 C627.6 296.1 631.0 296.8 631.0 295.0 C631.0 292.4 627.8 290.9 626.0 289.0 C624.4 287.3 622.3 286.0 621.0 284.0 C619.9 282.2 617.9 279.8 619.0 278.0Z"/><path d="M1212.0 274.0 C1211.5 271.3 1206.7 275.0 1204.0 275.5 C1201.0 276.1 1198.0 278.2 1195.0 277.5 C1193.4 277.1 1194.1 274.2 1193.0 273.0 C1192.0 271.9 1190.5 271.2 1189.0 271.0 C1187.0 270.7 1185.0 271.3 1183.0 271.5 C1180.0 271.8 1177.0 271.9 1174.0 272.5 C1171.9 272.9 1169.8 273.4 1168.0 274.5 C1166.3 275.6 1164.9 277.2 1164.0 279.0 C1163.3 280.5 1163.7 282.3 1163.5 284.0 C1163.2 286.7 1163.2 289.4 1162.5 292.0 C1161.7 294.8 1159.7 297.2 1159.0 300.0 C1158.2 303.2 1158.1 306.7 1158.0 310.0 C1157.9 313.3 1155.2 319.4 1158.5 320.0 C1176.0 323.2 1198.5 331.6 1212.0 320.0 C1223.6 310.0 1214.7 289.1 1212.0 274.0Z"/><path d="M1158.0 310.0 C1154.7 310.6 1158.9 316.8 1160.0 320.0 C1160.6 321.8 1162.2 323.2 1163.0 325.0 C1163.5 326.1 1164.6 327.5 1164.0 328.5 C1162.7 330.6 1158.9 330.7 1158.0 333.0 C1157.5 334.3 1159.9 335.2 1161.0 336.0 C1162.6 337.2 1164.4 337.9 1166.0 339.0 C1167.7 340.2 1169.5 341.5 1171.0 343.0 C1172.8 344.8 1174.4 347.0 1176.0 349.0 C1177.4 350.7 1178.4 352.6 1180.0 354.0 C1181.1 355.0 1182.6 355.5 1184.0 356.0 C1186.6 356.9 1189.3 357.3 1192.0 358.0 C1194.7 358.7 1197.4 359.1 1200.0 360.0 C1201.1 360.4 1201.8 362.0 1203.0 362.0 C1206.1 362.0 1211.5 363.0 1212.0 360.0 C1214.8 343.6 1224.2 321.3 1212.0 310.0 C1198.8 297.8 1175.7 306.6 1158.0 310.0Z"/><path d="M1124.0 416.0 C1127.0 415.3 1130.0 414.6 1133.0 414.0 C1136.3 413.3 1139.7 411.3 1143.0 412.0 C1144.3 412.3 1141.6 414.7 1142.0 416.0 C1142.4 417.1 1144.0 417.3 1145.0 418.0 C1146.0 418.7 1147.0 419.3 1148.0 420.0 C1149.0 420.7 1151.7 421.0 1151.0 422.0 C1149.7 423.7 1147.0 423.5 1145.0 424.0 C1143.0 424.5 1141.0 424.9 1139.0 425.0 C1137.0 425.1 1134.9 425.0 1133.0 424.5 C1130.9 424.0 1129.0 422.9 1127.0 422.0 C1125.6 421.4 1124.3 420.7 1123.0 420.0 C1121.3 419.2 1117.5 419.3 1118.0 417.5 C1118.5 415.5 1122.0 416.5 1124.0 416.0Z"/><path d="M1152.0 433.5 C1152.6 432.2 1154.6 431.9 1156.0 432.0 C1157.8 432.1 1159.5 433.1 1161.0 434.0 C1162.5 434.9 1164.2 435.9 1165.0 437.5 C1165.4 438.3 1164.9 439.8 1164.0 440.0 C1162.4 440.4 1160.6 439.6 1159.0 439.0 C1157.2 438.4 1155.5 437.7 1154.0 436.5 C1153.1 435.8 1151.5 434.6 1152.0 433.5Z"/></g>
<ellipse cx="327.0" cy="322.6" rx="8.0" ry="3.0" fill="#2e947f"/>
<ellipse cx="483.0" cy="328.0" rx="9.0" ry="2.8" fill="#2e947f"/>
<ellipse cx="466.0" cy="339.0" rx="9.0" ry="2.4" fill="#2e947f"/>
<ellipse cx="501.6" cy="351.0" rx="2.0" ry="1.6" fill="#2e947f"/>
<ellipse cx="496.0" cy="355.6" rx="2.0" ry="1.4" fill="#2e947f"/>
<ellipse cx="601.0" cy="465.6" rx="7.0" ry="2.0" fill="#2e947f"/>
<ellipse cx="621.0" cy="444.4" rx="3.0" ry="1.2" fill="#2e947f"/>
<ellipse cx="823.0" cy="427.6" rx="4.0" ry="1.6" fill="#2e947f"/>
<ellipse cx="850.0" cy="421.6" rx="9.0" ry="2.4" fill="#2e947f"/>
<ellipse cx="946.6" cy="355.6" rx="3.0" ry="1.4" fill="#2e947f"/>
<ellipse cx="850.0" cy="421.6" rx="9.0" ry="2.4" fill="#2e947f"/>
<ellipse cx="823.0" cy="427.4" rx="4.0" ry="1.6" fill="#2e947f"/>
<ellipse cx="972.0" cy="422.4" rx="2.4" ry="1.4" fill="#2e947f"/>
<ellipse cx="701.0" cy="300.0" rx="2.8" ry="1.2" fill="#2e947f"/>
<ellipse cx="1071.0" cy="417.5" rx="7.0" ry="3.5" fill="#2e947f"/>
<ellipse cx="1076.5" cy="400.8" rx="2.5" ry="2.0" fill="#2e947f"/>
<ellipse cx="1109.0" cy="405.5" rx="3.0" ry="1.5" fill="#2e947f"/>
<ellipse cx="1209.5" cy="396.5" rx="1.0" ry="2.5" fill="#2e947f"/>
<ellipse cx="1070.0" cy="417.3" rx="8.0" ry="3.5" fill="#2e947f"/>
<ellipse cx="1076.5" cy="400.8" rx="2.5" ry="2.2" fill="#2e947f"/>
<ellipse cx="207.0" cy="317.0" rx="4.4" ry="2.8" fill="#a3c2a5"/>
<ellipse cx="374.0" cy="305.6" rx="5.0" ry="3.0" fill="#a3c2a5"/>
<ellipse cx="470.0" cy="300.6" rx="3.6" ry="2.0" fill="#a3c2a5"/>
<ellipse cx="690.0" cy="456.4" rx="5.0" ry="2.8" fill="#a3c2a5"/>
<ellipse cx="847.0" cy="395.6" rx="9.0" ry="1.6" fill="#a3c2a5"/>
<ellipse cx="845.0" cy="395.4" rx="8.0" ry="1.4" fill="#a3c2a5"/>
<ellipse cx="848.0" cy="382.4" rx="5.0" ry="1.2" fill="#a3c2a5"/>
<ellipse cx="348.0" cy="339.0" rx="4.0" ry="2.4" fill="#fff5f2"/>
<ellipse cx="245.0" cy="373.0" rx="3.6" ry="1.6" fill="#fff5f2"/>
<g fill="#1e5a68" stroke="none"><path d="M1170.0 282.0 C1169.8 280.1 1172.4 279.0 1174.0 278.0 C1175.8 276.9 1177.9 275.9 1180.0 276.0 C1181.9 276.1 1184.3 276.8 1185.0 278.5 C1185.6 280.0 1183.2 281.4 1183.0 283.0 C1182.8 284.7 1184.7 286.5 1184.0 288.0 C1183.4 289.3 1181.4 289.7 1180.0 289.5 C1178.1 289.3 1176.5 288.1 1175.0 287.0 C1173.1 285.6 1170.3 284.3 1170.0 282.0Z"/><path d="M1212.0 283.0 C1211.2 279.9 1205.8 284.6 1203.0 286.0 C1201.1 287.0 1199.8 288.9 1198.0 290.0 C1196.5 290.9 1194.5 291.0 1193.0 292.0 C1191.7 292.9 1191.3 294.6 1190.0 295.5 C1187.9 297.0 1185.2 297.6 1183.0 299.0 C1181.2 300.1 1179.3 301.3 1178.0 303.0 C1176.9 304.4 1177.1 306.6 1176.0 308.0 C1174.7 309.7 1171.8 310.0 1171.0 312.0 C1170.0 314.5 1168.4 319.5 1171.0 320.0 C1184.4 322.6 1201.9 329.2 1212.0 320.0 C1221.2 311.7 1215.2 294.9 1212.0 283.0Z"/><path d="M1171.0 310.0 C1169.0 310.3 1172.7 314.1 1172.0 316.0 C1171.0 318.7 1166.2 319.7 1166.5 322.5 C1166.8 324.8 1170.9 323.7 1173.0 324.5 C1174.4 325.0 1176.4 325.1 1177.0 326.5 C1177.8 328.3 1176.3 330.5 1176.5 332.5 C1176.6 333.5 1177.2 334.5 1178.0 335.0 C1179.5 335.9 1181.3 336.2 1183.0 336.5 C1184.6 336.8 1186.4 336.4 1188.0 337.0 C1190.2 337.9 1192.3 339.3 1194.0 341.0 C1195.1 342.1 1195.4 343.6 1196.0 345.0 C1196.7 346.6 1197.0 348.5 1198.0 350.0 C1199.0 351.6 1200.4 353.0 1202.0 354.0 C1202.9 354.5 1204.0 354.5 1205.0 354.5 C1207.3 354.5 1211.6 356.3 1212.0 354.0 C1214.3 339.5 1222.0 320.7 1212.0 310.0 C1202.7 300.0 1184.5 308.0 1171.0 310.0Z"/><path d="M192.0 343.0 C193.0 341.3 196.0 341.8 198.0 342.0 C200.1 342.2 202.1 343.0 204.0 344.0 C205.9 345.0 207.4 346.6 209.0 348.0 C210.4 349.3 211.6 350.8 213.0 352.0 C214.6 353.3 217.0 353.7 218.0 355.5 C218.5 356.3 216.9 357.2 216.0 357.5 C214.1 358.2 212.0 358.6 210.0 358.5 C208.3 358.4 206.6 357.7 205.0 357.0 C203.6 356.4 202.0 355.7 201.0 354.5 C200.2 353.6 200.8 351.9 200.0 351.0 C198.7 349.3 196.5 348.5 195.0 347.0 C193.8 345.8 191.1 344.4 192.0 343.0Z"/><path d="M228.0 345.5 C229.5 345.0 230.9 346.8 232.0 348.0 C232.7 348.8 233.4 350.0 233.0 351.0 C232.5 352.0 231.0 353.0 230.0 352.5 C228.9 352.0 229.3 350.2 229.0 349.0 C228.7 347.8 226.8 345.9 228.0 345.5Z"/></g>
<ellipse cx="446.0" cy="277.0" rx="6.0" ry="2.8" fill="#1e5a68"/>
<ellipse cx="455.0" cy="311.4" rx="4.4" ry="1.6" fill="#1e5a68"/>
<ellipse cx="360.0" cy="316.6" rx="1.6" ry="0.8" fill="#1e5a68"/>
<ellipse cx="425.0" cy="328.0" rx="2.0" ry="0.8" fill="#1e5a68"/>
<ellipse cx="1171.5" cy="333.8" rx="4.5" ry="0.6" fill="#1e5a68"/>
<ellipse cx="243.5" cy="306.0" rx="1.2" ry="0.8" fill="#1e5a68"/>
<path d="M109.5 336.5 L123.0 328.5 L122.5 326.5 L125.0 325.8 L131.0 326.2 L139.0 324.8 L148.0 324.0 L157.0 323.8 L166.0 324.0" fill="none" stroke="#000" stroke-width="1.4" stroke-linejoin="round"/>
<path d="M148.0 328.5 L151.0 331.0 L152.0 334.5 L150.5 336.5 L154.0 335.0 L157.0 338.0 L159.0 341.5 L161.0 339.5 L164.0 338.5 L167.0 342.0 L169.0 344.5 L170.0 341.5 L173.0 340.0 L177.0 343.0 L181.0 346.0 L185.0 348.0 L186.5 350.0 L184.0 352.0 L182.0 354.5 L181.0 358.0 L184.0 359.0 L185.0 356.0 L186.0 353.0 L184.0 357.5 L182.0 360.0 L179.0 363.5 L175.0 364.0 L171.5 363.5 L177.0 367.0 L181.0 365.5 L188.0 363.5 L193.0 364.0 L200.0 366.0 L209.0 369.0 L216.0 374.5 L223.0 380.0 L228.5 385.5 L229.5 390.0 L228.5 394.0 L226.5 397.0 L226.0 404.0 L227.5 400.0 L230.0 395.0 L234.0 395.0 L238.0 396.5 L243.0 401.0 L246.5 404.8 L250.0 406.5 L252.5 409.0 L253.5 414.0 L252.5 419.5 L254.0 415.0 L255.5 411.2 L261.0 411.5 L269.0 413.5 L275.0 415.0 L276.5 416.5 L276.0 413.5 L279.0 411.5 L286.0 411.5 L292.0 410.8 L299.0 411.5 L305.0 413.0 L309.0 414.0 L311.0 416.0 L309.5 421.0 L308.5 423.0 L311.0 419.0 L313.0 415.5 L317.0 417.0 L321.0 419.0 L327.0 420.0 L331.5 421.5 L335.0 425.0 L339.0 428.0 L341.0 430.0 L344.0 432.0 L341.5 433.5 L345.0 433.0 L348.5 436.5 L349.0 440.0 L347.5 441.5 L350.0 438.5 L351.5 436.5 L353.5 442.0 L354.5 446.5 L356.5 442.5 L359.5 443.0 L362.5 446.5 L364.5 452.0 L365.0 460.0 L367.0 466.0 L369.5 473.0 L371.5 479.5 L374.0 484.0 L376.0 488.0 L381.0 488.5 L385.0 490.5 L387.0 495.0 L386.0 500.0 L381.0 504.0 L377.0 508.0 L374.0 513.0 L370.0 517.0 L365.0 520.0 L361.0 522.5 L359.5 527.5 L356.0 531.0 L353.5 534.5 L353.0 539.0 L350.0 542.0 L349.0 545.5 L344.0 546.0 L339.5 548.0 L335.5 549.8 L340.0 550.0 L344.0 551.2 L348.0 550.0 L352.0 547.5 L357.0 545.5 L362.0 542.0 L367.0 539.0 L369.0 539.0 L368.0 542.0 L370.0 547.0 L372.0 552.0 L374.0 555.0 L377.5 558.5 L381.0 556.5 L386.0 555.0 L392.0 554.0 L397.0 553.0 L396.0 558.0 L394.0 564.0 L391.5 570.0 L394.0 570.0 L397.0 562.0 L399.0 556.5 L403.0 554.0 L407.0 550.0 L410.0 548.5 L413.0 551.0 L415.0 548.0 L413.0 546.0 L413.5 542.0 L416.0 538.0 L419.0 535.0 L424.0 533.5 L430.0 533.5 L433.0 532.5 L438.0 534.0 L443.0 535.5 L447.0 538.5 L453.0 540.0 L459.0 542.5 L465.0 545.0 L469.0 548.0 L458.0 543.0 L467.0 547.0 L470.0 552.0 L474.0 548.0 L480.0 551.0 L485.0 555.0 L486.0 560.0 L482.0 563.0 L487.0 563.0 L486.0 570.0 L482.0 579.6 L487.0 575.0 L490.0 568.0 L492.0 570.0 L491.0 573.0 L498.0 568.0 L507.0 565.0 L514.0 567.0 L524.0 572.0 L534.0 572.0 L541.0 575.0 L550.0 574.0 L560.0 572.4 L568.0 573.6 L578.0 579.0 L586.0 583.0 L592.0 588.0 L597.0 590.0 L604.0 598.0 L612.0 605.0 L618.0 608.0 L620.0 611.0 L626.0 612.4 L630.0 615.0 L642.0 614.0 L651.0 616.0 L655.0 622.0 L658.0 632.0 L661.0 642.0 L663.6 652.0 L663.0 660.0 L663.0 668.0 L660.0 678.0 L656.0 687.0 L653.6 692.0 L648.0 700.0 L643.0 706.0" fill="none" stroke="#000" stroke-width="1.4" stroke-linejoin="round"/>
<path d="M1030.0 62.5 L1029.5 67.0 L1027.5 70.0 L1023.5 72.0 L1019.0 76.5 L1015.0 80.0 L1011.5 82.5 L1010.0 85.0 L1012.0 84.5 L1010.0 89.0 L1007.0 94.0 L1004.5 97.5 L1005.5 99.0 L1003.5 102.0 L1002.0 107.0 L999.5 111.5 L995.5 112.5 L992.5 116.0 L991.0 121.0 L990.0 129.0 L989.5 133.0 L988.5 139.0 L990.0 134.5 L992.0 133.5 L994.5 138.0 L997.5 143.0 L999.5 141.0 L1001.5 144.0 L1005.0 150.0 L1004.5 155.0 L1003.0 159.0 L1001.0 158.0 L1000.0 160.5 L1003.0 163.0 L999.5 165.5 L1001.0 168.0 L1004.0 171.0 L1006.0 177.0 L1007.5 183.0 L1008.2 190.0 L1007.5 197.0 L1005.0 204.0 L1004.5 206.0 L1001.5 212.0 L999.5 218.0 L998.5 224.0 L999.0 230.0 L996.0 235.0 L992.0 241.0 L987.5 246.5 L984.0 248.5 L980.5 250.0 L982.0 252.0 L984.5 251.0 L987.0 252.5 L988.5 255.0 L991.0 257.5 L993.5 262.0 L995.5 264.5 L998.0 263.5 L995.0 266.0 L996.5 268.0 L998.5 271.0 L999.5 275.0 L999.5 275.0 L1003.0 276.5 L1008.0 275.0 L1014.0 274.0 L1019.5 273.8 L1014.0 274.5 L1007.0 276.0 L1003.0 277.5 L999.0 277.0 L997.0 274.5 L994.5 275.0 L993.5 278.0 L994.5 283.0 L994.5 288.0 L994.0 292.0 L997.0 289.0 L1000.0 289.5 L997.0 291.0 L994.5 292.5 L996.0 294.5 L1000.0 296.0 L1003.0 298.0 L1004.5 301.0 L1007.0 304.0 L1010.0 302.5 L1009.0 305.0 L1012.0 305.0 L1016.0 303.5 L1019.0 302.0 L1025.0 301.8 L1025.5 302.8 L1020.0 303.5 L1018.0 304.5 L1019.0 307.0 L1024.0 307.5 L1025.0 308.5 L1020.0 309.5 L1017.0 309.5 L1019.0 311.0 L1020.0 314.0 L1022.5 315.5 L1024.0 318.5 L1026.0 319.0 L1027.0 322.0 L1029.0 319.5 L1031.0 320.5 L1033.0 323.5 L1034.5 326.0 L1035.0 330.0 L1037.5 333.0 L1041.0 334.5 L1045.0 335.0 L1047.0 337.5 L1050.0 339.5 L1051.5 341.0 L1052.0 345.0 L1052.0 343.0 L1051.0 346.0 L1054.0 347.0 L1057.0 350.5 L1059.0 353.5 L1058.5 356.0 L1061.0 358.5 L1063.0 359.0 L1060.0 360.0 L1061.0 363.0 L1064.0 363.5 L1065.5 362.5 L1064.0 365.0 L1061.0 366.0 L1059.0 365.5 L1060.0 368.5 L1062.5 370.5 L1065.0 372.0 L1066.0 376.0 L1068.5 378.5 L1072.0 380.0 L1073.5 379.0 L1074.0 384.0 L1071.0 383.0 L1065.0 382.0 L1068.0 381.0 L1072.0 380.5 L1070.0 384.0 L1076.0 386.5 L1082.0 389.0 L1088.0 392.0 L1092.0 395.0 L1098.0 399.5 L1103.0 402.0 L1105.0 405.5 L1112.0 408.0 L1117.0 412.0 L1125.0 420.0 L1135.0 427.0 L1145.0 433.0 L1155.0 438.0 L1161.0 440.5 L1165.0 441.2 L1170.0 439.0 L1177.0 435.0 L1190.0 430.0 L1200.0 427.5 L1205.0 426.2 L1212.0 426.2" fill="none" stroke="#000" stroke-width="1.4" stroke-linejoin="round"/>
<path d="M109.5 185.0 L112.0 184.0 L115.0 183.3" fill="none" stroke="#000" stroke-width="1.4" stroke-linejoin="round"/>
<path d="M116.2 182.8 L118.5 182.1" fill="none" stroke="#000" stroke-width="1.4" stroke-linejoin="round"/>
<path d="M119.7 181.8 L122.0 181.1" fill="none" stroke="#000" stroke-width="1.4" stroke-linejoin="round"/>
<path d="M207.4 276.6 L208.0 279.0 L209.4 281.0" fill="none" stroke="#000" stroke-width="1.4" stroke-linejoin="round"/>
<path d="M123.0 328.5 L128.0 329.5 L132.0 329.0 L130.5 327.5 L125.0 327.0Z" fill="none" stroke="#000" stroke-width="1.4" stroke-linejoin="round"/>
<path d="M170.5 324.0 L175.0 323.2 L183.0 322.8 L182.0 326.0 L181.0 330.0 L181.5 334.0 L179.0 335.5 L174.0 336.0 L167.0 336.2 L170.0 334.5 L174.0 332.5 L174.5 329.0 L173.5 326.0Z" fill="none" stroke="#000" stroke-width="1.4" stroke-linejoin="round"/>
<path d="M120.0 319.5 L122.5 318.0 L125.0 319.0 L124.0 320.5 L121.0 320.5Z" fill="none" stroke="#000" stroke-width="1.4" stroke-linejoin="round"/>
<path d="M125.5 320.0 L127.5 316.5 L130.5 316.5 L131.2 319.5 L129.5 321.5 L126.5 321.2Z" fill="none" stroke="#000" stroke-width="1.4" stroke-linejoin="round"/>
<path d="M372.0 527.0 L376.0 524.5 L382.0 523.5 L390.0 524.5 L398.0 524.0 L406.0 524.5 L413.0 525.5 L414.5 527.5 L413.0 532.0 L411.5 536.0 L410.0 540.0 L407.0 543.0 L405.0 546.5 L400.0 548.0 L395.0 549.5 L392.0 552.0 L386.0 553.0 L381.0 553.5 L377.0 554.5 L374.0 552.5 L372.0 547.0 L370.0 542.0 L369.5 536.0 L371.0 532.0Z" fill="none" stroke="#000" stroke-width="1.4" stroke-linejoin="round"/>
<path d="M377.5 511.5 L382.0 509.5 L384.0 511.0 L381.0 514.0 L380.0 517.0 L377.0 520.0 L374.5 519.0 L376.0 515.0Z" fill="none" stroke="#000" stroke-width="1.4" stroke-linejoin="round"/>
<path d="M381.0 517.0 L386.0 515.5 L390.0 517.0 L388.0 519.5 L384.0 520.0Z" fill="none" stroke="#000" stroke-width="1.4" stroke-linejoin="round"/>
<path d="M389.0 520.0 L393.0 519.0 L396.5 521.0 L394.0 523.5 L390.0 523.0Z" fill="none" stroke="#000" stroke-width="1.4" stroke-linejoin="round"/>
<path d="M364.5 525.5 L369.0 522.5 L372.0 522.5 L370.0 525.0 L366.5 526.5Z" fill="none" stroke="#000" stroke-width="1.4" stroke-linejoin="round"/>
<path d="M354.0 534.0 L358.0 532.0 L362.0 532.5 L362.0 537.0 L359.0 541.0 L355.0 544.0 L351.0 546.0 L349.5 544.0 L352.0 540.0Z" fill="none" stroke="#000" stroke-width="1.4" stroke-linejoin="round"/>
<path d="M375.0 482.5 L377.0 481.0 L379.2 482.5 L379.0 485.5 L377.0 486.8 L375.2 485.2Z" fill="none" stroke="#000" stroke-width="1.4" stroke-linejoin="round"/>
<path d="M1008.0 308.5 L1009.5 308.0 L1010.3 310.0 L1009.5 311.5 L1008.2 311.0Z" fill="none" stroke="#000" stroke-width="1.4" stroke-linejoin="round"/>
<path d="M837.4 207.0 L840.6 205.6 L843.4 208.4 L841.8 211.0 L838.6 210.0Z" fill="none" stroke="#000" stroke-width="1.4" stroke-linejoin="round"/>
<path d="M881.0 224.0 L885.0 223.6 L885.4 227.2 L881.4 227.6Z" fill="none" stroke="#000" stroke-width="1.4" stroke-linejoin="round"/>
<path d="M866.0 242.0 L868.6 239.6 L871.0 245.0 L869.0 247.6 L866.6 246.0Z" fill="none" stroke="#000" stroke-width="1.4" stroke-linejoin="round"/>
<path d="M875.2 241.6 L876.6 240.2 L878.0 241.6 L876.6 243.2Z" fill="none" stroke="#000" stroke-width="1.4" stroke-linejoin="round"/>
<path d="M852.4 247.0 L854.4 245.0 L856.6 247.0 L854.4 249.2Z" fill="none" stroke="#000" stroke-width="1.4" stroke-linejoin="round"/>
<path d="M111.0 195.0 L114.5 194.6 L117.5 195.5 L115.0 196.5 L111.5 196.2Z" fill="none" stroke="#000" stroke-width="1.4" stroke-linejoin="round"/>
<path d="M148.5 201.8 L150.0 202.2 L153.0 205.0 L154.7 207.2 L153.5 208.0 L151.0 205.5 L149.0 203.5Z" fill="none" stroke="#000" stroke-width="1.4" stroke-linejoin="round"/>
<path d="M166.4 207.8 L168.0 206.2 L170.0 207.6 L168.6 209.4Z" fill="none" stroke="#000" stroke-width="1.4" stroke-linejoin="round"/>
<path d="M167.5 222.0 L169.5 221.0 L171.5 223.0 L174.0 219.0 L175.5 218.5 L177.0 221.0 L179.5 223.0 L175.0 223.5 L173.0 224.5 L172.2 227.5 L170.0 228.5 L168.2 226.0Z" fill="none" stroke="#000" stroke-width="1.4" stroke-linejoin="round"/>
<path d="M174.0 235.0 L176.0 234.5 L177.8 236.5 L178.0 240.0 L176.5 242.0 L175.0 240.0 L174.0 237.0Z" fill="none" stroke="#000" stroke-width="1.4" stroke-linejoin="round"/>
<path d="M179.0 249.0 L182.0 248.0 L186.0 253.0 L185.0 256.0 L182.0 255.0Z" fill="none" stroke="#000" stroke-width="1.4" stroke-linejoin="round"/>
<path d="M181.0 265.0 L184.0 262.0 L185.0 266.0 L183.0 270.0 L181.0 269.0Z" fill="none" stroke="#000" stroke-width="1.4" stroke-linejoin="round"/>
<path d="M177.4 277.6 L179.0 276.0 L180.6 277.6 L179.0 279.6Z" fill="none" stroke="#000" stroke-width="1.4" stroke-linejoin="round"/>
<path d="M168.0 299.0 L170.0 296.0 L172.0 298.0 L170.0 301.0Z" fill="none" stroke="#000" stroke-width="1.4" stroke-linejoin="round"/>
<path d="M175.4 239.0 L177.4 238.0 L179.4 240.0 L177.0 241.6Z" fill="none" stroke="#000" stroke-width="1.4" stroke-linejoin="round"/>
<path d="M435.2 153.8 L430.0 185.0 L416.3 252.5 L406.6 299.6" fill="none" stroke="#000" stroke-width="2.5" stroke-dasharray="2.6 4.05" />
<path d="M395.3 361.2 L378.0 454.0 L373.0 478.0 L349.0 609.0 L348.4 612.5" fill="none" stroke="#000" stroke-width="2.5" stroke-dasharray="2.6 4.05" />
<path d="M421.0 259.0 C422.3 257.1 423.8 257.6 426.0 258.0 C428.9 258.5 429.5 259.3 432.0 261.0 C434.5 262.7 436.2 262.7 437.0 265.6 C437.5 267.2 435.7 267.8 434.0 268.0 C430.9 268.4 430.0 268.0 427.0 267.0 C424.5 266.2 423.6 266.1 422.0 264.0 C420.6 262.2 419.7 260.9 421.0 259.0Z" fill="none" stroke="#000" stroke-width="2.9" stroke-linejoin="round"/>
<path d="M446.4 260.0 C447.5 258.5 448.5 258.5 450.4 258.6 C452.3 258.7 453.4 258.7 454.4 260.4 C455.3 261.9 455.2 263.0 454.0 264.4 C452.8 265.8 451.8 265.8 450.0 265.6 C448.3 265.4 447.7 265.0 446.8 263.6 C445.9 262.2 445.5 261.3 446.4 260.0Z" fill="none" stroke="#000" stroke-width="2.9" stroke-linejoin="round"/>
<path d="M449.6 269.6 C450.2 268.5 451.4 268.3 452.4 269.0 C454.0 270.1 452.8 271.8 454.4 273.0 C456.5 274.6 458.0 273.3 460.0 275.0 C461.5 276.2 462.3 277.2 461.6 279.0 C460.9 280.8 459.6 281.2 457.6 281.0 C455.2 280.7 454.7 279.7 453.0 278.0 C451.3 276.3 450.9 275.8 450.0 273.6 C449.3 271.9 448.8 271.2 449.6 269.6Z" fill="none" stroke="#000" stroke-width="2.9" stroke-linejoin="round"/>
<path d="M484.0 384.4 C484.7 382.0 486.0 381.9 488.0 380.4 C490.5 378.6 491.1 377.9 494.0 377.0 C496.1 376.3 497.3 375.6 499.0 377.0 C500.4 378.1 499.6 379.3 499.0 381.0 C498.2 383.1 497.8 383.8 496.0 385.0 C493.7 386.6 492.8 386.4 490.0 387.0 C488.3 387.3 487.6 387.7 486.0 387.0 C484.7 386.4 483.6 385.8 484.0 384.4Z" fill="none" stroke="#000" stroke-width="2.9" stroke-linejoin="round"/>
<path d="M634.0 423.0 C634.0 421.5 634.7 421.0 636.0 420.4 C637.6 419.7 638.4 419.7 640.0 420.4 C641.5 421.0 642.3 421.4 642.4 423.0 C642.5 424.6 641.9 425.3 640.4 426.0 C638.6 426.8 637.8 426.8 636.0 426.0 C634.5 425.3 634.0 424.6 634.0 423.0Z" fill="none" stroke="#000" stroke-width="2.9" stroke-linejoin="round"/>
<path d="M636.0 428.0 C631.4 428.0 630.3 429.2 626.0 431.0 C622.7 432.4 621.8 432.7 619.0 435.0 C617.4 436.4 615.6 437.1 616.4 439.0 C617.5 441.6 619.4 441.0 622.0 442.0 C625.5 443.4 626.5 443.2 630.0 444.4 C631.8 445.0 635.3 444.6 634.0 446.0 C631.5 448.9 629.2 446.9 626.0 449.0 C624.8 449.8 623.9 451.1 625.0 452.0 C627.5 454.1 628.8 453.4 632.0 454.0 C635.5 454.7 636.6 453.8 640.0 455.0 C641.8 455.6 642.7 456.1 643.0 458.0 C643.3 459.6 640.6 459.4 641.0 461.0 C641.3 462.4 642.6 462.9 644.0 462.4 C645.9 461.8 646.5 460.9 647.0 459.0 C647.5 457.2 644.7 456.3 646.0 455.0 C647.9 453.1 650.3 456.1 652.0 454.0 C653.2 452.4 650.0 452.0 650.0 450.0 C650.0 448.0 652.5 447.9 652.0 446.0 C651.4 443.9 650.1 443.9 648.0 443.0 C644.6 441.6 642.9 443.3 640.0 441.0 C638.2 439.6 639.0 438.3 639.0 436.0 C639.0 433.7 640.8 433.1 640.0 431.0 C639.2 428.9 638.2 428.0 636.0 428.0Z" fill="none" stroke="#000" stroke-width="2.9" stroke-linejoin="round"/>
<path d="M770.6 407.0 C770.7 405.7 770.8 405.0 772.0 404.4 C773.4 403.7 774.2 403.8 775.6 404.6 C776.8 405.3 777.2 406.0 777.0 407.4 C776.8 408.7 776.2 409.1 775.0 409.6 C773.6 410.1 772.9 410.2 771.6 409.4 C770.6 408.8 770.5 408.2 770.6 407.0Z" fill="none" stroke="#000" stroke-width="2.9" stroke-linejoin="round"/>
<path d="M778.4 411.0 C781.0 408.8 782.6 409.8 786.0 409.6 C790.4 409.3 791.7 409.1 796.0 410.0 C797.0 410.2 797.8 411.4 797.0 412.0 C794.3 413.8 793.2 413.8 790.0 414.0 C786.4 414.2 785.5 413.9 782.0 413.0 C780.2 412.5 777.0 412.2 778.4 411.0Z" fill="none" stroke="#000" stroke-width="2.9" stroke-linejoin="round"/>
<path d="M926.0 300.0 C926.3 298.0 926.5 297.4 928.0 296.0 C930.7 293.5 931.7 293.3 935.0 291.6 C938.4 289.9 939.4 289.6 943.0 288.4 C945.6 287.5 946.3 286.5 949.0 287.0 C950.9 287.3 951.5 288.2 952.0 290.0 C952.6 292.1 950.7 292.9 951.4 295.0 C952.2 297.3 954.2 296.7 955.0 299.0 C955.5 300.5 955.1 301.3 954.0 302.4 C952.2 304.2 951.4 304.2 949.0 305.0 C945.5 306.2 944.7 306.8 941.0 307.0 C937.4 307.2 936.5 306.8 933.0 306.0 C930.2 305.3 929.2 305.5 927.0 303.6 C925.7 302.5 925.8 301.6 926.0 300.0Z" fill="none" stroke="#000" stroke-width="2.9" stroke-linejoin="round"/>
<path d="M920.0 340.0 C919.7 338.1 921.2 337.6 923.0 337.0 C925.5 336.2 926.4 336.3 929.0 337.0 C931.1 337.5 932.6 337.5 933.0 339.6 C933.3 341.4 931.7 341.8 930.0 342.4 C927.5 343.2 926.6 343.2 924.0 342.6 C921.9 342.1 920.4 342.1 920.0 340.0Z" fill="none" stroke="#000" stroke-width="2.9" stroke-linejoin="round"/>
<path d="M632.0 300.0 C634.0 298.0 635.2 298.4 638.0 298.0 C642.4 297.3 643.6 297.2 648.0 297.6 C651.2 297.9 652.9 297.2 655.0 299.6 C656.4 301.1 654.6 302.2 653.6 304.0 C652.4 306.1 652.0 306.8 650.0 308.0 C646.7 310.0 645.6 309.7 642.0 311.0 C639.8 311.8 639.2 313.4 637.0 312.6 C634.6 311.7 634.9 310.2 633.6 308.0 C632.6 306.3 632.4 305.9 632.0 304.0 C631.7 302.3 630.7 301.3 632.0 300.0Z" fill="none" stroke="#000" stroke-width="2.9" stroke-linejoin="round"/>
<path d="M1169.0 261.5 C1169.5 260.4 1169.9 260.2 1171.0 259.8 C1172.2 259.3 1172.7 259.2 1174.0 259.5 C1175.2 259.8 1175.5 260.2 1176.2 261.2 C1176.9 262.3 1176.1 263.1 1177.0 264.0 C1178.0 265.0 1178.8 264.2 1180.0 265.0 C1181.2 265.8 1181.7 266.1 1182.0 267.5 C1182.4 269.0 1181.1 269.5 1181.5 271.0 C1181.8 272.4 1182.5 272.5 1183.5 273.5 C1185.4 275.2 1186.1 275.3 1188.0 277.0 C1189.7 278.4 1189.9 278.9 1191.5 280.5 C1192.8 281.8 1193.9 281.7 1194.5 283.5 C1194.9 284.8 1194.6 285.6 1193.5 286.5 C1192.1 287.7 1191.4 287.7 1189.5 287.8 C1187.3 287.9 1186.7 287.6 1184.5 287.0 C1182.4 286.4 1181.9 286.0 1180.0 285.0 C1178.1 284.0 1177.9 283.4 1176.0 282.5 C1173.9 281.5 1173.2 281.5 1171.0 280.8 C1168.8 280.1 1168.1 280.4 1166.0 279.5 C1164.5 278.9 1163.9 278.8 1163.0 277.5 C1162.0 276.2 1162.1 275.6 1162.0 274.0 C1161.9 272.4 1161.8 271.9 1162.5 270.5 C1163.2 268.9 1163.7 268.6 1165.0 267.5 C1166.2 266.5 1166.8 266.8 1168.0 265.8 C1168.7 265.2 1169.0 264.9 1169.2 264.0 C1169.5 262.9 1168.6 262.5 1169.0 261.5Z" fill="none" stroke="#000" stroke-width="2.9" stroke-linejoin="round"/>
<path d="M1157.5 306.5 C1156.9 304.6 1157.4 303.9 1158.0 302.0 C1158.5 300.3 1158.6 299.7 1160.0 298.5 C1161.9 296.9 1162.7 297.0 1165.0 296.0 C1167.2 295.0 1167.7 294.7 1170.0 294.0 C1172.0 293.4 1172.5 292.8 1174.5 293.0 C1175.8 293.2 1176.7 293.5 1176.8 294.8 C1177.0 296.8 1176.1 297.3 1175.0 299.0 C1173.9 300.7 1173.6 301.3 1172.0 302.5 C1170.0 304.0 1169.3 304.0 1167.0 305.0 C1165.3 305.8 1164.7 305.8 1163.0 306.5 C1161.6 307.1 1161.5 308.0 1160.0 308.0 C1158.7 308.0 1157.9 307.7 1157.5 306.5Z" fill="none" stroke="#000" stroke-width="2.9" stroke-linejoin="round"/>
<path d="M1114.0 406.0 C1114.3 404.5 1115.5 404.7 1117.0 404.3 C1119.2 403.7 1119.8 403.4 1122.0 403.8 C1124.4 404.2 1124.7 405.1 1127.0 406.0 C1130.1 407.2 1130.8 407.8 1134.0 408.5 C1137.0 409.2 1137.9 408.7 1141.0 409.0 C1143.2 409.2 1143.9 409.1 1146.0 409.8 C1147.0 410.1 1148.3 410.2 1148.0 411.2 C1147.5 412.7 1146.3 412.2 1145.0 413.0 C1143.6 413.9 1142.9 413.7 1142.0 415.0 C1141.2 416.1 1140.9 416.8 1141.5 418.0 C1142.4 419.8 1143.6 419.6 1145.0 421.0 C1146.4 422.4 1146.7 422.9 1148.0 424.5 C1149.1 425.8 1150.1 425.8 1150.5 427.5 C1150.7 428.5 1150.0 429.0 1149.0 429.2 C1146.8 429.7 1146.2 429.4 1144.0 429.0 C1140.8 428.4 1140.2 427.7 1137.0 427.0 C1133.5 426.2 1132.5 426.5 1129.0 425.5 C1126.2 424.7 1125.3 424.8 1123.0 423.0 C1121.9 422.1 1122.0 421.4 1122.0 420.0 C1122.0 418.6 1123.6 418.3 1123.0 417.0 C1122.0 415.0 1120.6 415.6 1119.0 414.0 C1117.4 412.4 1117.2 411.9 1116.0 410.0 C1114.9 408.3 1113.7 408.0 1114.0 406.0Z" fill="none" stroke="#000" stroke-width="2.9" stroke-linejoin="round"/>
<path d="M1150.0 406.2 C1151.5 404.4 1152.7 404.9 1155.0 404.5 C1158.5 403.8 1159.4 403.9 1163.0 403.7 C1166.6 403.5 1167.5 403.4 1171.0 403.8 C1172.6 404.0 1173.6 403.6 1174.5 405.0 C1175.1 405.9 1174.0 406.6 1173.0 407.0 C1170.1 408.2 1169.2 408.1 1166.0 408.5 C1162.5 409.0 1161.6 409.1 1158.0 409.0 C1155.3 408.9 1154.6 408.9 1152.0 408.0 C1150.9 407.6 1149.2 407.1 1150.0 406.2Z" fill="none" stroke="#000" stroke-width="2.9" stroke-linejoin="round"/>
<path d="M427.8 149.5 C428.6 148.1 428.9 146.6 430.5 147.0 C434.0 147.8 433.9 150.0 437.0 151.8 C439.8 153.3 440.8 153.3 443.8 154.5 C446.6 155.7 448.0 155.0 450.2 157.2 C452.3 159.3 452.9 160.4 452.5 163.2 C452.1 165.9 450.6 166.0 448.8 168.0 C446.7 170.2 445.3 169.9 443.8 172.5 C442.3 174.9 443.5 176.1 442.5 178.8 C441.8 180.8 441.8 181.8 440.0 183.0 C437.3 184.8 436.3 185.4 433.0 185.2 C430.3 185.1 429.8 184.0 427.5 182.5 C424.5 180.5 423.8 180.0 421.2 177.5 C418.2 174.4 417.7 173.4 415.0 170.0 C412.9 167.3 409.8 167.1 410.5 163.8 C411.3 160.0 414.3 160.9 417.5 158.8 C420.2 157.0 421.1 156.9 423.8 155.0 C425.7 153.6 426.4 153.4 427.8 151.5 C428.3 150.8 427.3 150.3 427.8 149.5Z" fill="none" stroke="#000" stroke-width="2.9" stroke-linejoin="round"/>
<path d="M195.5 319.0 C196.9 318.2 197.4 317.9 199.0 318.0 C200.7 318.1 201.3 318.3 202.5 319.5 C203.7 320.7 204.0 321.3 204.0 323.0 C204.0 324.7 203.5 325.2 202.5 326.5 C201.3 328.1 200.7 328.3 199.0 329.5 C197.3 330.7 196.7 330.7 195.0 332.0 C193.8 333.0 192.8 333.0 192.5 334.5 C192.2 336.2 192.8 336.8 194.0 338.0 C195.4 339.4 196.2 339.3 198.0 340.0 C200.6 341.0 201.4 340.9 204.0 342.0 C206.8 343.1 207.4 343.5 210.0 345.0 C211.9 346.1 212.2 346.7 214.0 348.0 C215.8 349.3 216.4 349.4 218.0 351.0 C219.6 352.6 220.9 352.8 221.0 355.0 C221.1 357.1 219.9 357.4 218.5 359.0 C217.2 360.6 216.2 360.3 215.0 362.0 C213.9 363.5 214.9 364.8 213.5 366.0 C211.9 367.4 211.1 367.1 209.0 367.2 C206.3 367.3 205.6 367.1 203.0 366.5 C200.3 365.9 199.6 365.5 197.0 364.5 C195.2 363.8 194.5 363.8 193.0 362.5 C191.5 361.3 191.3 360.7 190.5 359.0 C189.9 357.8 189.2 357.1 190.0 356.0 C191.1 354.4 192.3 355.0 194.0 354.0 C195.8 353.0 196.3 352.7 198.0 351.5 C199.2 350.7 201.3 350.7 200.5 349.5 C199.0 347.3 197.4 348.1 195.0 347.0 C193.2 346.1 192.7 346.0 191.0 345.0 C189.8 344.3 189.1 344.3 188.5 343.0 C187.7 341.4 188.8 340.6 188.0 339.0 C187.2 337.3 185.9 337.6 185.0 336.0 C184.1 334.4 183.5 333.8 184.0 332.0 C184.5 330.0 185.7 330.1 187.0 328.5 C188.3 326.9 188.7 326.6 190.0 325.0 C191.3 323.4 191.6 323.0 193.0 321.5 C194.1 320.3 194.1 319.8 195.5 319.0Z" fill="none" stroke="#000" stroke-width="2.9" stroke-linejoin="round"/>
<path d="M224.5 361.0 C224.7 359.3 226.3 359.6 228.0 359.2 C230.6 358.7 231.4 358.5 234.0 359.0 C236.0 359.4 236.9 359.4 238.0 361.0 C238.8 362.1 238.5 363.1 237.5 364.0 C235.9 365.3 235.1 365.1 233.0 365.2 C230.5 365.3 229.7 365.6 227.5 364.5 C225.7 363.6 224.3 363.0 224.5 361.0Z" fill="none" stroke="#000" stroke-width="2.9" stroke-linejoin="round"/>
<path d="M316.5 349.0 C316.6 347.4 317.4 347.2 318.5 346.0 C319.5 344.9 320.6 345.4 321.0 344.0 C321.4 342.7 319.9 342.4 320.0 341.0 C320.1 339.9 320.4 339.3 321.5 339.0 C322.5 338.7 322.9 339.2 323.5 340.0 C324.3 340.9 323.5 341.8 324.5 342.5 C326.0 343.6 326.9 342.6 328.5 343.5 C329.7 344.2 330.2 344.6 330.5 346.0 C330.9 347.5 330.8 348.1 330.0 349.5 C329.1 351.0 328.6 351.3 327.0 352.0 C324.9 352.9 324.3 353.0 322.0 353.0 C320.2 353.0 319.5 353.1 318.0 352.0 C316.8 351.1 316.4 350.5 316.5 349.0Z" fill="none" stroke="#000" stroke-width="2.9" stroke-linejoin="round"/>
<path d="M384.5 317.0 C386.1 314.9 387.5 315.8 390.0 315.0 C392.6 314.2 393.3 314.2 396.0 313.5 C397.6 313.1 399.5 310.9 399.5 312.5 C399.5 314.7 397.8 314.8 396.0 316.0 C394.0 317.3 393.3 317.2 391.0 318.0 C389.3 318.6 388.8 319.3 387.0 319.0 C385.6 318.8 383.6 318.1 384.5 317.0Z" fill="none" stroke="#000" stroke-width="2.9" stroke-linejoin="round"/>
<path d="M388.0 321.5 C389.2 320.0 390.1 320.4 392.0 320.0 C394.2 319.5 394.8 319.1 397.0 319.5 C398.6 319.8 399.5 320.0 400.0 321.5 C400.6 323.0 400.1 323.8 399.0 325.0 C397.7 326.5 397.0 326.6 395.0 327.0 C393.2 327.3 392.7 327.1 391.0 326.5 C389.7 326.0 389.2 325.7 388.5 324.5 C387.8 323.3 387.2 322.6 388.0 321.5Z" fill="none" stroke="#000" stroke-width="2.9" stroke-linejoin="round"/>
<path d="M407.0 332.5 C404.8 331.9 404.2 332.0 402.0 332.0 C398.9 332.0 398.1 332.7 395.0 332.5 C391.8 332.3 391.1 331.6 388.0 331.0 C385.3 330.5 384.7 330.2 382.0 330.0 C379.3 329.8 378.6 329.2 376.0 330.0 C373.9 330.6 373.2 331.1 372.0 333.0 C370.8 334.9 370.7 335.7 371.0 338.0 C371.2 340.0 371.6 340.5 373.0 342.0 C374.9 344.0 375.7 344.1 378.0 345.5 C380.6 347.0 381.4 347.1 384.0 348.5 C386.0 349.6 386.2 351.4 388.5 351.0 C391.1 350.6 391.0 348.8 393.0 347.0 C395.2 345.0 395.8 344.5 398.0 342.5 C399.8 340.9 400.2 340.5 402.0 339.0 C403.3 337.9 403.8 337.7 405.0 336.5 C406.2 335.3 406.7 335.1 407.5 333.5 C407.7 333.1 407.5 332.6 407.0 332.5Z" fill="none" stroke="#000" stroke-width="2.9" stroke-linejoin="round"/>
<path d="M1212.0 343.2 C1209.3 342.9 1208.5 343.5 1206.0 342.5 C1204.7 342.0 1205.2 340.8 1204.0 340.0 C1202.0 338.7 1201.2 339.0 1199.0 338.0 C1196.7 337.0 1195.9 337.1 1194.0 335.5 C1192.9 334.5 1192.9 333.9 1192.5 332.5 C1192.0 330.8 1192.8 330.1 1192.0 328.5 C1191.2 327.0 1190.5 326.8 1189.0 326.0 C1187.4 325.1 1186.9 324.9 1185.0 324.8 C1183.2 324.7 1182.6 324.7 1181.0 325.5 C1179.4 326.2 1178.9 326.5 1178.0 328.0 C1177.0 329.6 1176.9 330.2 1177.0 332.0 C1177.1 333.7 1177.4 334.3 1178.5 335.5 C1179.9 337.0 1181.2 336.3 1182.5 338.0 C1183.1 338.7 1182.7 339.4 1182.0 340.0 C1180.5 341.3 1179.7 341.0 1178.0 342.0 C1176.4 343.0 1175.2 342.7 1174.5 344.5 C1174.0 345.7 1175.1 346.1 1176.0 347.0 C1177.6 348.6 1178.2 348.7 1180.0 350.0 C1181.7 351.2 1182.0 351.8 1184.0 352.5 C1185.7 353.1 1186.2 353.1 1188.0 353.0 C1190.3 352.9 1190.9 352.7 1193.0 352.0 C1194.9 351.4 1195.2 350.9 1197.0 350.0 C1198.3 349.3 1198.5 348.6 1200.0 348.5 C1201.4 348.4 1202.0 348.5 1203.0 349.5 C1204.2 350.7 1204.1 351.4 1204.5 353.0 C1205.0 354.7 1205.0 355.2 1205.0 357.0 C1205.0 358.8 1203.9 359.3 1204.5 361.0 C1204.9 362.3 1205.7 362.5 1207.0 363.0 C1209.1 363.8 1209.8 363.6 1212.0 364.0" fill="none" stroke="#000" stroke-width="2.9" stroke-linejoin="round"/>
<path d="M1205.0 356.5 L1212.0 356.2" fill="none" stroke="#000" stroke-width="2.9" stroke-linejoin="round"/>
<path d="M425.0 146.5 C425.8 146.9 426.1 146.8 426.8 147.5 C427.4 148.2 427.3 148.6 427.8 149.5" fill="none" stroke="#000" stroke-width="2.9" stroke-linejoin="round"/>
<path d="M109.0 64.0 C111.2 64.9 111.9 64.8 114.0 66.0 C116.4 67.3 117.1 67.5 119.0 69.5 C121.0 71.6 123.0 72.1 122.5 75.0 C121.9 78.6 119.6 78.4 117.0 81.0 C114.9 83.1 114.3 83.6 112.0 85.5 C110.8 86.5 110.3 86.6 109.0 87.5" fill="none" stroke="#000" stroke-width="2.9" stroke-linejoin="round"/>
<path d="M383.5 311.0 C385.3 310.0 385.6 309.4 387.5 308.8 C389.6 308.1 390.3 307.9 392.5 308.0 C394.1 308.1 394.4 308.7 396.0 309.2" fill="none" stroke="#000" stroke-width="2.9" stroke-linejoin="round"/>
<ellipse cx="573.0" cy="198.6" rx="3.0" ry="2.6" fill="#000" transform="rotate(0 573.0 198.6)"/>
<ellipse cx="393.0" cy="233.0" rx="3.4" ry="2.8" fill="#000" transform="rotate(20 393.0 233.0)"/>
<ellipse cx="366.6" cy="244.0" rx="2.1" ry="2.1" fill="#000" transform="rotate(0 366.6 244.0)"/>
<ellipse cx="489.0" cy="395.0" rx="2.3" ry="2.3" fill="#000" transform="rotate(0 489.0 395.0)"/>
<ellipse cx="528.0" cy="394.6" rx="2.8" ry="2.8" fill="#000" transform="rotate(0 528.0 394.6)"/>
<ellipse cx="656.6" cy="472.0" rx="3.6" ry="2.4" fill="#000" transform="rotate(10 656.6 472.0)"/>
<ellipse cx="716.0" cy="477.4" rx="3.2" ry="2.4" fill="#000" transform="rotate(-10 716.0 477.4)"/>
<ellipse cx="689.6" cy="455.4" rx="1.8" ry="1.8" fill="#000" transform="rotate(0 689.6 455.4)"/>
<ellipse cx="871.0" cy="357.4" rx="3.4" ry="2.8" fill="#000" transform="rotate(30 871.0 357.4)"/>
<ellipse cx="1179.5" cy="400.5" rx="5.2" ry="3.2" fill="#000" transform="rotate(0 1179.5 400.5)"/>
<ellipse cx="1096.0" cy="395.2" rx="4.5" ry="3.0" fill="#000" transform="rotate(0 1096.0 395.2)"/>
<ellipse cx="425.0" cy="146.5" rx="2.0" ry="1.8" fill="#000" transform="rotate(0 425.0 146.5)"/>
<ellipse cx="1011.0" cy="84.5" rx="1.3" ry="1.6" fill="#000" transform="rotate(20 1011.0 84.5)"/>
<ellipse cx="1001.5" cy="158.5" rx="1.4" ry="2.4" fill="#000" transform="rotate(20 1001.5 158.5)"/>
<ellipse cx="1005.0" cy="317.0" rx="1.2" ry="1.6" fill="#000" transform="rotate(0 1005.0 317.0)"/>
<ellipse cx="1009.5" cy="317.0" rx="1.2" ry="1.6" fill="#000" transform="rotate(0 1009.5 317.0)"/>
<ellipse cx="1014.0" cy="314.5" rx="0.9" ry="1.8" fill="#000" transform="rotate(40 1014.0 314.5)"/>
<ellipse cx="1008.0" cy="303.5" rx="1.8" ry="1.8" fill="#000" transform="rotate(0 1008.0 303.5)"/>
<ellipse cx="844.0" cy="211.6" rx="1.2" ry="1.2" fill="#000" transform="rotate(0 844.0 211.6)"/>
<ellipse cx="858.0" cy="216.6" rx="2.6" ry="1.4" fill="#000" transform="rotate(20 858.0 216.6)"/>
<ellipse cx="881.4" cy="214.0" rx="1.2" ry="2.6" fill="#000" transform="rotate(0 881.4 214.0)"/>
<ellipse cx="189.0" cy="314.8" rx="3.0" ry="1.2" fill="#000" transform="rotate(-20 189.0 314.8)"/>
<ellipse cx="222.0" cy="345.5" rx="5.5" ry="2.5" fill="#000" transform="rotate(0 222.0 345.5)"/>
<ellipse cx="144.8" cy="188.6" rx="2.0" ry="2.6" fill="#000" transform="rotate(-20 144.8 188.6)"/>
<ellipse cx="168.0" cy="197.5" rx="1.8" ry="1.8" fill="#000" transform="rotate(0 168.0 197.5)"/>
<ellipse cx="160.8" cy="213.8" rx="1.5" ry="1.7" fill="#000" transform="rotate(0 160.8 213.8)"/>
<ellipse cx="177.8" cy="228.8" rx="1.6" ry="1.6" fill="#000" transform="rotate(0 177.8 228.8)"/>
<path d="M1212.0 302.8 L1203.0 303.5 L1198.0 303.0 L1194.5 305.0 L1195.0 309.0 L1197.0 312.0 L1195.0 316.0 L1193.0 318.0 L1193.5 317.0 L1197.0 319.5 L1202.0 321.5 L1206.0 324.0 L1207.5 329.0 L1208.5 335.0 L1210.0 339.0 L1212.0 341.0" fill="none" stroke="#8b0000" stroke-width="3" stroke-linejoin="round"/>
<g fill="none" stroke="#ff7f0e"><circle cx="221" cy="280" r="7.9" stroke-width="2.9"/><circle cx="224.5" cy="279.5" r="12.05" stroke-width="2.9"/><circle cx="272.8" cy="297.7" r="22.3" stroke-width="2.9"/><circle cx="335" cy="313.7" r="22.3" stroke-width="2.9"/><circle cx="396.7" cy="332.2" r="22.3" stroke-width="2.9"/><circle cx="458.2" cy="350.7" r="22.3" stroke-width="2.9"/></g><path d="M208.67 281.39 L213.83 282.34 L227.66 284.32 L246.11 289.52 L292.60 302.40 L339.26 316.94 L417.27 340.34 L429.55 343.04 L436.69 343.79 L436.91 343.01 L430.45 339.96 L418.73 335.46 L340.74 312.06 L294.00 297.60 L247.29 285.08 L228.34 280.88 L214.17 279.46 L208.93 279.21Z M405.42 298.57 L399.33 327.69 L393.63 356.84 L397.57 357.56 L402.67 328.31 L407.78 299.03Z M395.37 358.81 L415.59 352.41 L437.21 344.63 L436.39 342.17 L414.41 348.79 L394.23 355.19Z" fill="#ff7f0e"/>
<line x1="118.2" y1="673.6" x2="142.8" y2="673.6" stroke="#8b0000" stroke-width="2.6"/><line x1="118.2" y1="689.4" x2="142.8" y2="689.4" stroke="#000" stroke-width="2.6"/><text x="150.2" y="676.9" font-size="10.9" textLength="329.5" lengthAdjust="spacingAndGlyphs">Ensemble mean, 3-hourly precip rate &gt; 30mm/day contour</text><text x="150.2" y="692.8" font-size="10.9" textLength="353.5" lengthAdjust="spacingAndGlyphs">Operational forecast, 3-hourly precip rate &gt; 30mm/day contour</text><rect x="820.1" y="661" width="362.9" height="32.8" fill="#fff"/><text x="825.3" y="675.2" font-size="10.4" textLength="351.8" lengthAdjust="spacingAndGlyphs">Latest ECMWF IFS forecast initialization: 2024-09-20 00:00 UTC</text><text x="825.3" y="686.8" font-size="10.4" textLength="321" lengthAdjust="spacingAndGlyphs">Satellite tracks forecast issued on: 2024-09-19 00:00 UTC</text>
</g>
<rect x="109.5" y="62.3" width="1102.0" height="643.0" fill="none" stroke="#000" stroke-width="2.9"/>
<line x1="201.3" y1="706.6" x2="201.3" y2="718.7" stroke="#000" stroke-width="2.7"/>
<rect x="178.9" y="731.7" width="14.4" height="2.0" fill="#000"/>
<text x="195.8" y="740.2" font-size="23.6" text-anchor="start" textLength="27.8" lengthAdjust="spacingAndGlyphs" >60</text>
<line x1="385.0" y1="706.6" x2="385.0" y2="718.7" stroke="#000" stroke-width="2.7"/>
<rect x="362.6" y="731.7" width="14.4" height="2.0" fill="#000"/>
<text x="379.5" y="740.2" font-size="23.6" text-anchor="start" textLength="27.8" lengthAdjust="spacingAndGlyphs" >50</text>
<line x1="568.7" y1="706.6" x2="568.7" y2="718.7" stroke="#000" stroke-width="2.7"/>
<rect x="546.3" y="731.7" width="14.4" height="2.0" fill="#000"/>
<text x="563.2" y="740.2" font-size="23.6" text-anchor="start" textLength="27.8" lengthAdjust="spacingAndGlyphs" >40</text>
<line x1="752.3" y1="706.6" x2="752.3" y2="718.7" stroke="#000" stroke-width="2.7"/>
<rect x="729.9" y="731.7" width="14.4" height="2.0" fill="#000"/>
<text x="746.8" y="740.2" font-size="23.6" text-anchor="start" textLength="27.8" lengthAdjust="spacingAndGlyphs" >30</text>
<line x1="936.0" y1="706.6" x2="936.0" y2="718.7" stroke="#000" stroke-width="2.7"/>
<rect x="913.6" y="731.7" width="14.4" height="2.0" fill="#000"/>
<text x="930.5" y="740.2" font-size="23.6" text-anchor="start" textLength="27.8" lengthAdjust="spacingAndGlyphs" >20</text>
<line x1="1119.7" y1="706.6" x2="1119.7" y2="718.7" stroke="#000" stroke-width="2.7"/>
<rect x="1097.3" y="731.7" width="14.4" height="2.0" fill="#000"/>
<text x="1114.2" y="740.2" font-size="23.6" text-anchor="start" textLength="27.8" lengthAdjust="spacingAndGlyphs" >10</text>
<line x1="108.2" y1="154.2" x2="97.2" y2="154.2" stroke="#000" stroke-width="2.7"/>
<text x="63.4" y="162.8" font-size="23.6" text-anchor="start" textLength="27.8" lengthAdjust="spacingAndGlyphs" >20</text>
<line x1="108.2" y1="337.9" x2="97.2" y2="337.9" stroke="#000" stroke-width="2.7"/>
<text x="63.4" y="346.5" font-size="23.6" text-anchor="start" textLength="27.8" lengthAdjust="spacingAndGlyphs" >10</text>
<line x1="108.2" y1="521.6" x2="97.2" y2="521.6" stroke="#000" stroke-width="2.7"/>
<text x="77.3" y="530.2" font-size="23.6" text-anchor="start" textLength="13.9" lengthAdjust="spacingAndGlyphs" >0</text>
<line x1="108.2" y1="705.3" x2="97.2" y2="705.3" stroke="#000" stroke-width="2.7"/>
<text x="63.4" y="713.9" font-size="23.6" text-anchor="start" textLength="27.8" lengthAdjust="spacingAndGlyphs" >10</text>
<rect x="46.4" y="705.2" width="14.4" height="2.0" fill="#000"/>
<text x="452.0" y="53.3" font-size="24.8" text-anchor="start" textLength="416.5" lengthAdjust="spacingAndGlyphs" >Valid time: 2024-09-23 12:00UTC</text>
<text x="571.5" y="769.8" font-size="24.8" text-anchor="start" textLength="176.5" lengthAdjust="spacingAndGlyphs" >Longitude / °E</text>
<text x="31.9" y="463.2" font-size="24.8" text-anchor="start" textLength="157.0" lengthAdjust="spacingAndGlyphs" transform="rotate(-90 31.9 463.2)" >Latitude / °N</text>
<rect x="1279.4" y="88.60" width="30.3" height="118.46" fill="#161c44"/>
<rect x="1279.4" y="206.76" width="30.3" height="118.46" fill="#1e5a68"/>
<rect x="1279.4" y="324.92" width="30.3" height="118.46" fill="#2e947f"/>
<rect x="1279.4" y="443.08" width="30.3" height="118.46" fill="#a3c2a5"/>
<rect x="1279.4" y="561.24" width="30.3" height="118.46" fill="#fff5f2"/>
<rect x="1279.4" y="88.6" width="30.3" height="590.8" fill="none" stroke="#000" stroke-width="2.8"/>
<line x1="1311.0" y1="88.6" x2="1322.4" y2="88.6" stroke="#000" stroke-width="2.7"/>
<text x="1327.9" y="97.1" font-size="23.6" text-anchor="start" textLength="41.7" lengthAdjust="spacingAndGlyphs" >100</text>
<line x1="1311.0" y1="206.8" x2="1322.4" y2="206.8" stroke="#000" stroke-width="2.7"/>
<text x="1327.9" y="215.3" font-size="23.6" text-anchor="start" textLength="27.8" lengthAdjust="spacingAndGlyphs" >50</text>
<line x1="1311.0" y1="324.9" x2="1322.4" y2="324.9" stroke="#000" stroke-width="2.7"/>
<text x="1327.9" y="333.4" font-size="23.6" text-anchor="start" textLength="27.8" lengthAdjust="spacingAndGlyphs" >20</text>
<line x1="1311.0" y1="443.1" x2="1322.4" y2="443.1" stroke="#000" stroke-width="2.7"/>
<text x="1327.9" y="451.6" font-size="23.6" text-anchor="start" textLength="27.8" lengthAdjust="spacingAndGlyphs" >10</text>
<line x1="1311.0" y1="561.2" x2="1322.4" y2="561.2" stroke="#000" stroke-width="2.7"/>
<text x="1327.9" y="569.7" font-size="23.6" text-anchor="start" textLength="13.9" lengthAdjust="spacingAndGlyphs" >5</text>
<line x1="1311.0" y1="679.4" x2="1322.4" y2="679.4" stroke="#000" stroke-width="2.7"/>
<text x="1327.9" y="687.9" font-size="23.6" text-anchor="start" textLength="13.9" lengthAdjust="spacingAndGlyphs" >0</text>
<text x="1394.2" y="578.0" font-size="24.8" text-anchor="start" textLength="387.5" lengthAdjust="spacingAndGlyphs" transform="rotate(-90 1394.2 578.0)" >(Probability of 3h-mean precip.</text>
<text x="1421.0" y="524.0" font-size="24.8" text-anchor="start" textLength="279.5" lengthAdjust="spacingAndGlyphs" transform="rotate(-90 1421.0 524.0)" >rate &gt; 30mm/day) / %</text>
</svg></body></html>
